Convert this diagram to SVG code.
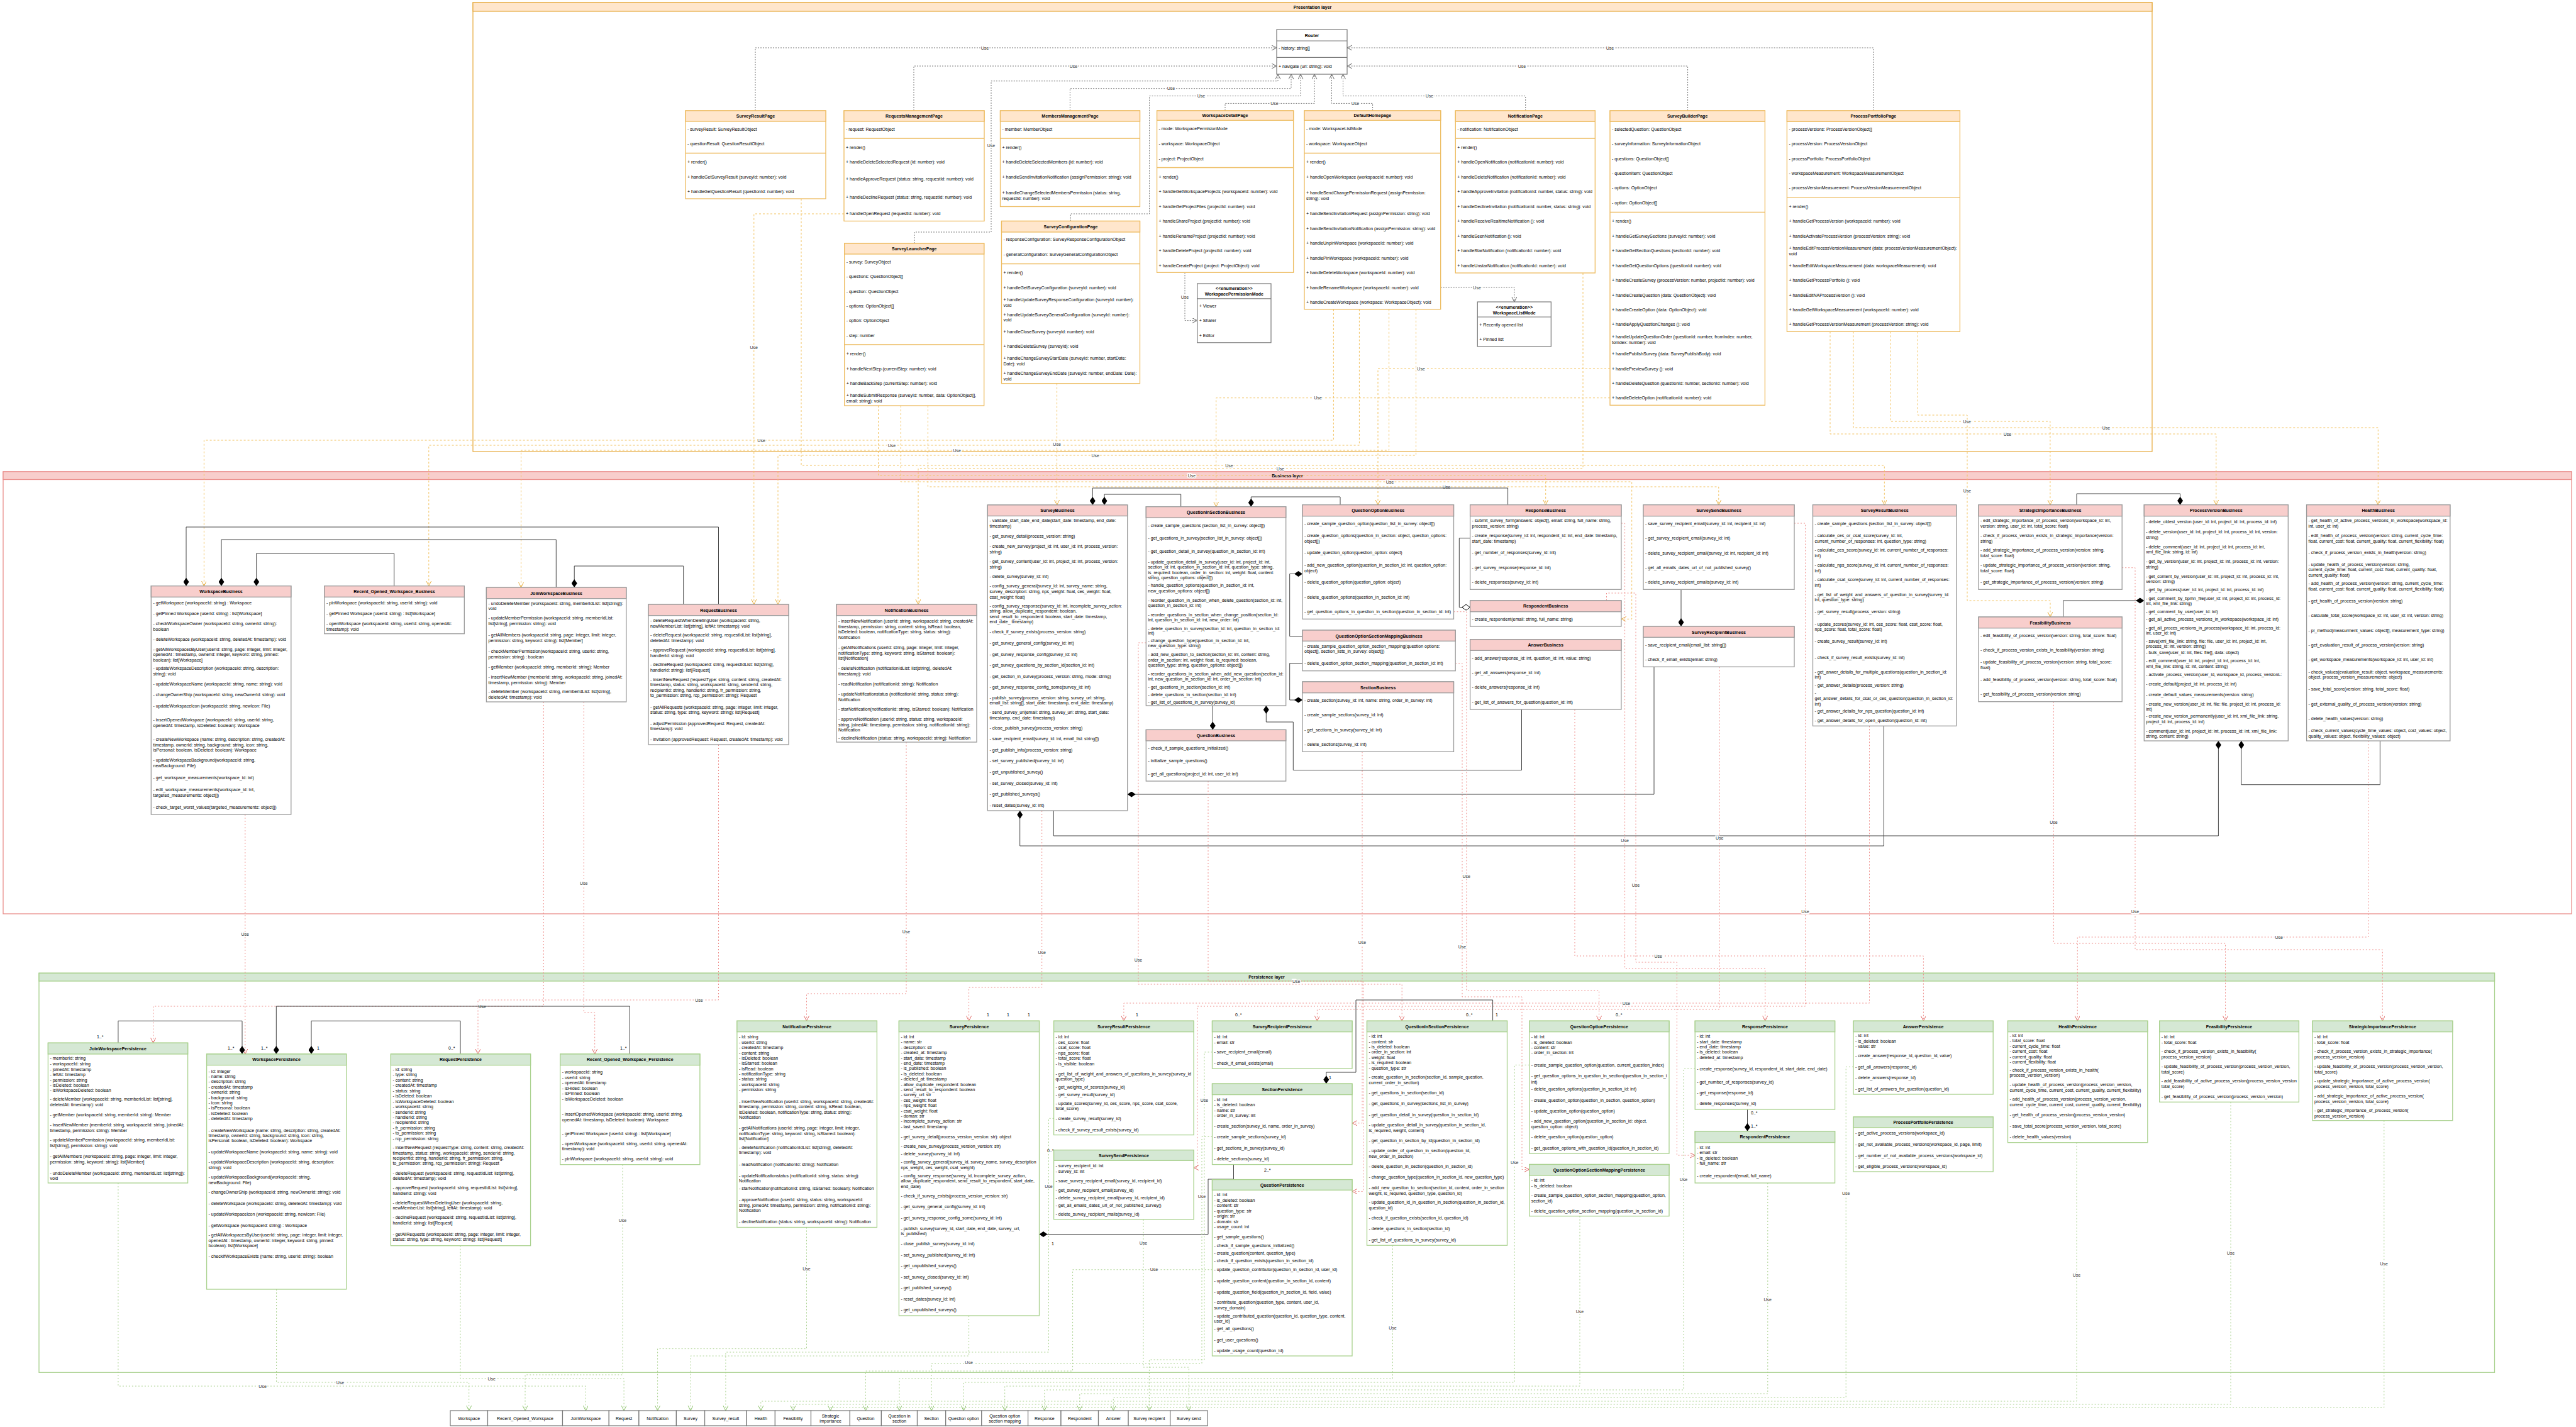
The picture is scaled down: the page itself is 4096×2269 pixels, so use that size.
<svg xmlns="http://www.w3.org/2000/svg" width="4096" height="2269" viewBox="0 0 4096 2269">
<style>
.t{font-family:"Liberation Sans",Arial,Helvetica,sans-serif;font-size:7px;fill:#000}
.b{font-weight:bold;text-anchor:middle}
.c{text-anchor:middle}
.lb{font-family:"Liberation Sans",Arial,sans-serif;font-size:7px;fill:#333;text-anchor:middle;paint-order:stroke;stroke:#fff;stroke-width:3px}
.pb{fill:#fff;stroke:#edbb5f;stroke-width:1.3}
.ph{fill:#ffe6cc;stroke:#edbb5f;stroke-width:1.3}
.pl{fill:none;stroke:#edbb5f;stroke-width:1.3}
.bb{fill:#fff;stroke:#9a9a9a;stroke-width:1.3}
.bh{fill:#f8cecc;stroke:#9a9a9a;stroke-width:1.3}
.gb{fill:#fff;stroke:#a9d18e;stroke-width:1.3}
.gh{fill:#d5e8d4;stroke:#a9d18e;stroke-width:1.3}
.wb{fill:#fff;stroke:#777;stroke-width:1.2}
.wl{fill:none;stroke:#777;stroke-width:1.2}
.ug{fill:none;stroke:#777;stroke-width:1;stroke-dasharray:2 2;marker-end:url(#ag)}
.uo{fill:none;stroke:#f2c260;stroke-width:1;stroke-dasharray:3 3;marker-end:url(#ao)}
.ur{fill:none;stroke:#ee8f8c;stroke-width:1;stroke-dasharray:2 3;marker-end:url(#ar)}
.un{fill:none;stroke:#a9d18e;stroke-width:1;stroke-dasharray:2 3;marker-end:url(#an)}
.s{fill:none;stroke:#444;stroke-width:1;marker-start:url(#dm)}
.sh{fill:none;stroke:#444;stroke-width:1;marker-start:url(#dh)}
</style>
<defs>
<marker id="ag" markerWidth="10" markerHeight="10" refX="8" refY="4" orient="auto" markerUnits="userSpaceOnUse"><path d="M0,0L8,4L0,8" fill="none" stroke="#666" stroke-width="1"/></marker>
<marker id="ao" markerWidth="10" markerHeight="10" refX="8" refY="4" orient="auto" markerUnits="userSpaceOnUse"><path d="M0,0L8,4L0,8" fill="none" stroke="#e8ae3e" stroke-width="1"/></marker>
<marker id="ar" markerWidth="10" markerHeight="10" refX="8" refY="4" orient="auto" markerUnits="userSpaceOnUse"><path d="M0,0L8,4L0,8" fill="none" stroke="#e06c68" stroke-width="1"/></marker>
<marker id="an" markerWidth="10" markerHeight="10" refX="8" refY="4" orient="auto" markerUnits="userSpaceOnUse"><path d="M0,0L8,4L0,8" fill="none" stroke="#8cc26b" stroke-width="1"/></marker>
<marker id="dm" markerWidth="14" markerHeight="10" refX="0" refY="4.5" orient="auto" markerUnits="userSpaceOnUse"><path d="M0,4.5L6.5,0L13,4.5L6.5,9Z" fill="#000"/></marker>
<marker id="dh" markerWidth="15" markerHeight="11" refX="0.5" refY="5" orient="auto" markerUnits="userSpaceOnUse"><path d="M0.5,5L7,0.5L13.5,5L7,9.5Z" fill="#fff" stroke="#000" stroke-width="1"/></marker>
</defs>
<rect width="4096" height="2269" fill="#fff"/>

<g id="layers">
<rect x="752" y="4" width="2670" height="714" fill="none" stroke="#e8b04a" stroke-width="1.3"/>
<rect x="752" y="4" width="2670" height="14" fill="#ffe6cc" stroke="#e8b04a" stroke-width="1.3"/>
<text class="t b" x="2087" y="13.5">Presentation layer</text>
<rect x="5" y="750" width="4084" height="703" fill="none" stroke="#ea8f8c" stroke-width="1.3"/>
<rect x="5" y="750" width="4084" height="12.5" fill="#f8cecc" stroke="#ea8f8c" stroke-width="1.3"/>
<text class="t b" x="2047" y="759">Business layer</text>
<rect x="62" y="1547.3" width="3904.5" height="635" fill="none" stroke="#a9d18e" stroke-width="1.3"/>
<rect x="62" y="1547.3" width="3904.5" height="12.7" fill="#d5e8d4" stroke="#a9d18e" stroke-width="1.3"/>
<text class="t b" x="2014" y="1556">Persistence layer</text>
</g>

<g id="connectors">
<path class="ug" d="M1201,176V76H2030"/>
<path class="ug" d="M1453,176V105H2030"/>
<path class="ug" d="M1454,387V369H1576V128.8H2032V118"/>
<path class="ug" d="M1701.4,176V140.7H2053V118"/>
<path class="ug" d="M1702.4,351.5V340H1827.5V152.6H2068V118"/>
<path class="ug" d="M1948,176V164.4H2090V118"/>
<path class="ug" d="M2182.6,176V164.4H2117.5V118"/>
<path class="ug" d="M2425.7,176V152.6H2135.5V118"/>
<path class="ug" d="M2683.6,176V105H2142"/>
<path class="ug" d="M2978.6,176V76H2142"/>
<path class="ug" d="M1884,433.3V509.6H1903.7"/>
<path class="ug" d="M2290.7,457H2407.9V480"/>
<text class="lb" x="1566" y="78.5">Use</text>
<text class="lb" x="1707" y="107.5">Use</text>
<text class="lb" x="1576" y="234">Use</text>
<text class="lb" x="1862" y="143">Use</text>
<text class="lb" x="1910" y="155">Use</text>
<text class="lb" x="2026.5" y="167">Use</text>
<text class="lb" x="2155" y="167">Use</text>
<text class="lb" x="2273" y="155">Use</text>
<text class="lb" x="2420" y="107.5">Use</text>
<text class="lb" x="2560" y="78.5">Use</text>
<text class="lb" x="1884" y="474.5">Use</text>
<text class="lb" x="2348.6" y="459.5">Use</text>
<path class="uo" d="M2120.4,491.8V700H324.4V931.7"/>
<path class="uo" d="M2161.4,491.8V708H681.8V931.7"/>
<path class="uo" d="M2208.6,491.8V716H828.5V934"/>
<path class="uo" d="M2251.5,491.8V724H1237V961"/>
<path class="uo" d="M1342,340H1198.8V961"/>
<path class="uo" d="M1274,316V740H2996.3V802.7"/>
<path class="uo" d="M1680.6,609.7V802.9"/>
<path class="uo" d="M2560,586H2191V802.7"/>
<path class="uo" d="M2560,632.7H1933.7V805.7"/>
<path class="uo" d="M1396.5,645V756H2457.7V802.7"/>
<path class="uo" d="M1432.4,645V766H2594.7V984.3H2578"/>
<path class="uo" d="M1475.5,645V774H2732.8V802.7"/>
<path class="uo" d="M2517,434V745H1460V961"/>
<path class="uo" d="M2910,527.3V690H3523.8V802.7"/>
<path class="uo" d="M2947,527.3V680H3781.3V802.7"/>
<path class="uo" d="M3005.7,527.3V670H3259.9V802.7"/>
<path class="uo" d="M3049.3,527.3V660H3128V955H3260V981"/>
<text class="lb" x="1198.8" y="554.5">Use</text>
<text class="lb" x="2095.8" y="635.2">Use</text>
<text class="lb" x="2259.6" y="588.5">Use</text>
<text class="lb" x="1210.6" y="702.5">Use</text>
<text class="lb" x="1417.9" y="710.5">Use</text>
<text class="lb" x="1521.8" y="718.5">Use</text>
<text class="lb" x="1741.7" y="726.5">Use</text>
<text class="lb" x="1954.5" y="742.5">Use</text>
<text class="lb" x="1680.6" y="708.8">Use</text>
<text class="lb" x="1895" y="758.5">Use</text>
<text class="lb" x="2210" y="768.5">Use</text>
<text class="lb" x="2300" y="776.5">Use</text>
<text class="lb" x="2036" y="747.5">Use</text>
<text class="lb" x="3192" y="692.5">Use</text>
<text class="lb" x="3349" y="682.5">Use</text>
<text class="lb" x="3127.7" y="672.5">Use</text>
<text class="lb" x="3128" y="783.3">Use</text>
<path class="s" d="M296,931.7V838H1142.5V961"/>
<path class="s" d="M352,931.7V858H884.3V934"/>
<path class="s" d="M407.7,931.7V880H626.7V931.7"/>
<path class="s" d="M913.2,934V900H1086.7V961"/>
<path class="s" d="M1737.3,802.9V776H2397.6V802.7"/>
<path class="s" d="M1756,802.9V786H1877.7V805.7"/>
<path class="s" d="M1989.3,805.7V790H2131V802.7"/>
<path class="s" d="M1928.3,1160.4V1122"/>
<path class="s" d="M2013.3,1122V1148H2056.3V1224.5H2419.5V1128"/>
<path class="s" d="M2071,912.5H2050.7V1011.8H2071"/>
<path class="s" d="M2071,1113H2050.7V1054.6H2071"/>
<path class="sh" d="M2337.6,965.7H2320.3V855.7H2337.6"/>
<path class="s" d="M2673,996V937.3"/>
<path class="s" d="M1792.7,1263H2630V1060.3"/>
<path class="s" d="M1621.7,1289V1345H2995.4V1154.3"/>
<path class="s" d="M3527.4,1178V1329H1675.3V1289"/>
<path class="s" d="M3563.8,1178V1247.7H3784.4V1178"/>
<path class="s" d="M3466.6,802.7V785H3302V802.7"/>
<path class="s" d="M3409.3,955H3280.5V981"/>
<path class="ur" d="M389.8,1295V1676"/>
<path class="ur" d="M864.3,1116V1600H243.6V1658.3"/>
<path class="ur" d="M928.3,1116V1610H945.7V1676"/>
<path class="ur" d="M1142.5,1184V1590H760V1676"/>
<path class="ur" d="M1441,1180V1580H1282.5V1623.3"/>
<path class="ur" d="M1656.7,1289V1570H1540.6V1623.3"/>
<path class="ur" d="M1822.3,1022H1810V1565H2229.2V1623.3"/>
<path class="ur" d="M2972.5,1154.3V1595H1786.9V1623.3"/>
<path class="ur" d="M1921,1242V1560H2167.6V1894.4H2150"/>
<path class="ur" d="M2166,1195.3V1785.8H2150"/>
<path class="ur" d="M2311.5,972.7H2331.8V1575H2542.6V1623.3"/>
<path class="ur" d="M2314.2,1054.7H2325V1585H2420V1859.5H2431.7"/>
<path class="ur" d="M2577.9,832H2583.6V1540H2806.7V1623.3"/>
<path class="ur" d="M2554.5,955V943H2601V1530H2666.4V1837H2695.2"/>
<path class="ur" d="M2504,1128V1520H3058.4V1623.3"/>
<path class="ur" d="M2853,832H2870.5V1600H1903.8V1856.7H1898.1"/>
<path class="ur" d="M2734.2,1060.3V1605H2094.4V1623.3"/>
<path class="ur" d="M3374.2,902.7H3395V1510H3788.3V1623.3"/>
<path class="ur" d="M3265.4,1115.7V1500H3538.5V1623.3"/>
<path class="ur" d="M3765.7,1178V1490H3303.3V1623.3"/>
<text class="lb" x="389.8" y="1488">Use</text>
<text class="lb" x="766.8" y="1602.5">Use</text>
<text class="lb" x="928.3" y="1407.2">Use</text>
<text class="lb" x="1111.5" y="1592.5">Use</text>
<text class="lb" x="1441" y="1483.5">Use</text>
<text class="lb" x="1656.7" y="1516.5">Use</text>
<text class="lb" x="1810" y="1528.5">Use</text>
<text class="lb" x="2585.9" y="1597.5">Use</text>
<text class="lb" x="2061.3" y="1562.5">Use</text>
<text class="lb" x="2166" y="1500.8">Use</text>
<text class="lb" x="2331.8" y="1395.7">Use</text>
<text class="lb" x="2325" y="1507.5">Use</text>
<text class="lb" x="2583.6" y="1338.8">Use</text>
<text class="lb" x="2601" y="1410.4">Use</text>
<text class="lb" x="2636.8" y="1522.5">Use</text>
<text class="lb" x="2870.5" y="1452">Use</text>
<text class="lb" x="2734.2" y="1335">Use</text>
<text class="lb" x="3395" y="1451.8">Use</text>
<text class="lb" x="3265.4" y="1310">Use</text>
<text class="lb" x="3623.8" y="1492.5">Use</text>
<path class="s" d="M385,1676V1623.3H187.9V1658.3"/>
<path class="s" d="M439.3,1676V1600H1001.4V1676"/>
<path class="s" d="M495,1676V1623.3H732V1676"/>
<path class="s" d="M1652.5,1962.6H1921V1875H1961.5V1851.6"/>
<path class="s" d="M2108.8,1723.2V1705H2156V1590H2373.6V1623.3"/>
<path class="s" d="M2778.5,1798.8V1764"/>
<text class="t" x="154" y="1651">1..*</text>
<text class="t" x="362" y="1669">1..*</text>
<text class="t" x="415" y="1669">1..*</text>
<text class="t" x="504" y="1669">1</text>
<text class="t" x="713" y="1669">0..*</text>
<text class="t" x="986" y="1669">1..*</text>
<text class="t" x="1569" y="1616">1</text>
<text class="t" x="1601" y="1616">1</text>
<text class="t" x="1634" y="1616">1</text>
<text class="t" x="1806" y="1616">1</text>
<text class="t" x="1964" y="1616">0..*</text>
<text class="t" x="1665" y="1832">0..*</text>
<text class="t" x="1672" y="1980">1</text>
<text class="t" x="2010" y="1863">2..*</text>
<text class="t" x="2113" y="1716">1</text>
<text class="t" x="2331" y="1616">0..*</text>
<text class="t" x="2378" y="1616">1</text>
<text class="t" x="2569" y="1616">0..*</text>
<text class="t" x="2784" y="1772">0..*</text>
<text class="t" x="2784" y="1793">1..*</text>
<path class="un" d="M187.9,1881V2204H931.4V2243"/>
<path class="un" d="M439.6,2050V2198H745.7V2243"/>
<path class="un" d="M732,1980.7V2192H992.1V2243"/>
<path class="un" d="M990,1851.7V2186H835V2243"/>
<path class="un" d="M1282.5,1951.5V2144.6H1045.6V2243"/>
<path class="un" d="M1540.6,2092V2156H1098V2243"/>
<path class="un" d="M1675.6,1778.3H1667.5V2150H1153.9V2243"/>
<path class="un" d="M1818,1938.9V2174H1890.4V2243"/>
<path class="un" d="M1927.5,1672.9H1915V2162H1827.4V2243"/>
<path class="un" d="M1927.5,1807.5H1911V2168H1481.1V2243"/>
<path class="un" d="M1927.5,2018.8H1705.6V2180H1376.4V2243"/>
<path class="un" d="M2214.5,1980.2V2192H1430V2243"/>
<path class="un" d="M2431.7,1693.4H2408.2V2198H1532.2V2243"/>
<path class="un" d="M2512,1933.7V2204H1597.7V2243"/>
<path class="un" d="M2695.2,1699.2H2677V2210H1660.8V2243"/>
<path class="un" d="M2810.8,1881V2216H1716.8V2243"/>
<path class="un" d="M2947,1696.3H2935.2V2222H1770.3V2243"/>
<path class="un" d="M3302,1816.7V2228H1209.8V2243"/>
<path class="un" d="M3547,1752.3V2233H1261V2243"/>
<path class="un" d="M3790.8,1781.7V2238H1320.5V2243"/>
<text class="lb" x="1282.5" y="2019.8">Use</text>
<text class="lb" x="1818" y="1979">Use</text>
<text class="lb" x="2214.5" y="2114">Use</text>
<text class="lb" x="2512" y="2087.5">Use</text>
<text class="lb" x="2810.8" y="2068.5">Use</text>
<text class="lb" x="990" y="1943">Use</text>
<text class="lb" x="1540.6" y="2168.5">Use</text>
<text class="lb" x="1915" y="1752.3">Use</text>
<text class="lb" x="1911" y="1904.5">Use</text>
<text class="lb" x="1835" y="2021.3">Use</text>
<text class="lb" x="1667.5" y="1888.5">Use</text>
<text class="lb" x="2408.2" y="1850.8">Use</text>
<text class="lb" x="2677" y="1878">Use</text>
<text class="lb" x="2935.2" y="1900.2">Use</text>
<text class="lb" x="417.6" y="2206.5">Use</text>
<text class="lb" x="541" y="2200.5">Use</text>
<text class="lb" x="781.8" y="2194.5">Use</text>
<text class="lb" x="3302" y="2030">Use</text>
<text class="lb" x="3547" y="1995">Use</text>
<text class="lb" x="3790.8" y="2012">Use</text>
</g>

<g id="Router">
<rect class="wb" x="2030" y="47" width="112" height="71"/>
<path class="wl" d="M2030,65H2142M2030,91.3H2142"/>
<text class="t b" x="2086" y="58.5">Router</text>
<text class="t"><tspan x="2033" y="78.5">- history: string[]</tspan><tspan x="2033" y="107.5">+ navigate (url: string): void</tspan></text>
</g>

<g id="SurveyResultPage">
<rect class="pb" x="1090" y="176" width="223" height="140"/>
<rect class="ph" x="1090" y="176" width="223" height="17"/>
<path class="pl" d="M1090,243.5H1313"/>
<text class="t b" x="1201.5" y="187">SurveyResultPage</text>
<text class="t"><tspan x="1093" y="207.5">- surveyResult: SurveyResultObject</tspan><tspan x="1093" y="231">- questionResult: QuestionResultObject</tspan><tspan x="1093" y="260.3">+ render()</tspan><tspan x="1093" y="283.5">+ handleGetSurveyResult (surveyId: number): void</tspan><tspan x="1093" y="307">+ handleGetQuestionResult (questionId: number): void</tspan></text>
</g>

<g id="RequestsManagementPage">
<rect class="pb" x="1342" y="176" width="223" height="175.5"/>
<rect class="ph" x="1342" y="176" width="223" height="17"/>
<path class="pl" d="M1342,220H1565"/>
<text class="t b" x="1453.5" y="187">RequestsManagementPage</text>
<text class="t"><tspan x="1345" y="207.5">- request: RequestObject</tspan><tspan x="1345" y="237">+ render()</tspan><tspan x="1345" y="260.3">+ handleDeleteSelectedRequest (id: number): void</tspan><tspan x="1345" y="286.7">+ handleApproveRequest (status: string, requestId: number): void</tspan><tspan x="1345" y="316">+ handleDeclineRequest (status: string, requestId: number): void</tspan><tspan x="1345" y="342">+ handleOpenRequest (requestId: number): void</tspan></text>
</g>

<g id="MembersManagementPage">
<rect class="pb" x="1590.5" y="176" width="222" height="152.5"/>
<rect class="ph" x="1590.5" y="176" width="222" height="17"/>
<path class="pl" d="M1590.5,220H1812.5"/>
<text class="t b" x="1701.5" y="187">MembersManagementPage</text>
<text class="t"><tspan x="1593.5" y="207.5">- member: MemberObject</tspan><tspan x="1593.5" y="237">+ render()</tspan><tspan x="1593.5" y="260.3">+ handleDeleteSelectedMembers (id: number): void</tspan><tspan x="1593.5" y="283.5">+ handleSendInvitationNotification (assignPermission: string): void</tspan><tspan x="1593.5" y="308.5">+ handleChangeSelectedMembersPermission (status: string,</tspan><tspan x="1593.5" y="317.5">requestId: number): void</tspan></text>
</g>

<g id="SurveyConfigurationPage">
<rect class="pb" x="1592.5" y="351.5" width="220" height="258.2"/>
<rect class="ph" x="1592.5" y="351.5" width="220" height="17.5"/>
<path class="pl" d="M1592.5,419.5H1812.5"/>
<text class="t b" x="1702.5" y="362.7">SurveyConfigurationPage</text>
<text class="t"><tspan x="1595.5" y="383.2">- responseConfiguration: SurveyResponseConfigurationObject</tspan><tspan x="1595.5" y="406.5">- generalConfiguration: SurveyGeneralConfigurationObject</tspan><tspan x="1595.5" y="436">+ render()</tspan><tspan x="1595.5" y="459.5">+ handleGetSurveyConfiguration (surveyId: number): void</tspan><tspan x="1595.5" y="478.5">+ handleUpdateSurveyResponseConfiguration (surveyId: number):</tspan><tspan x="1595.5" y="487.5">void</tspan><tspan x="1595.5" y="502.5">+ handleUpdateSurveyGeneralConfiguration  (surveyId: number):</tspan><tspan x="1595.5" y="510.5">void</tspan><tspan x="1595.5" y="529.5">+ handleCloseSurvey (surveyId: number): void</tspan><tspan x="1595.5" y="553">+ handleDeleteSurvey (surveyId): void</tspan><tspan x="1595.5" y="572">+ handleChangeSurveyStartDate (surveyId: number, startDate:</tspan><tspan x="1595.5" y="581">Date): void</tspan><tspan x="1595.5" y="596">+ handleChangeSurveyEndDate (surveyId: number, endDate: Date):</tspan><tspan x="1595.5" y="604.5">void</tspan></text>
</g>

<g id="SurveyLauncherPage">
<rect class="pb" x="1342.7" y="387" width="222" height="258"/>
<rect class="ph" x="1342.7" y="387" width="222" height="17"/>
<path class="pl" d="M1342.7,548H1564.7"/>
<text class="t b" x="1453.7" y="398">SurveyLauncherPage</text>
<text class="t"><tspan x="1345.7" y="418.5">- survey: SurveyObject</tspan><tspan x="1345.7" y="442">- questions: QuestionObject[]</tspan><tspan x="1345.7" y="465.5">- question: QuestionObject</tspan><tspan x="1345.7" y="488.5">- options: OptionObject[]</tspan><tspan x="1345.7" y="512">- option: OptionObject</tspan><tspan x="1345.7" y="535.5">- step: number</tspan><tspan x="1345.7" y="565">+ render()</tspan><tspan x="1345.7" y="588.5">+ handleNextStep (currentStep: number): void</tspan><tspan x="1345.7" y="611.5">+ handleBackStep (currentStep: number): void</tspan><tspan x="1345.7" y="631">+ handleSubmitResponse (surveyId: number, data: OptionObject[],</tspan><tspan x="1345.7" y="640">email: string): void</tspan></text>
</g>

<g id="WorkspaceDetailPage">
<rect class="pb" x="1839.6" y="176" width="217" height="257.3"/>
<rect class="ph" x="1839.6" y="176" width="217" height="15.3"/>
<path class="pl" d="M1839.6,266.5H2056.6"/>
<text class="t b" x="1948" y="186">WorkspaceDetailPage</text>
<text class="t"><tspan x="1842.6" y="206.5">- mode: WorkspacePermisionMode</tspan><tspan x="1842.6" y="230.5">- workspace: WorkspaceObject</tspan><tspan x="1842.6" y="254.5">- project: ProjectObject</tspan><tspan x="1842.6" y="283.5">+ render()</tspan><tspan x="1842.6" y="307">+ handleGetWorkspaceProjects (workspaceId: number): void</tspan><tspan x="1842.6" y="330.5">+ handleGetProjectFiles (projectId: number): void</tspan><tspan x="1842.6" y="354">+ handleShareProject (projectId: number): void</tspan><tspan x="1842.6" y="377.5">+ handleRenameProject (projectId: number): void</tspan><tspan x="1842.6" y="401">+ handleDeleteProject (projectId: number): void</tspan><tspan x="1842.6" y="424.5">+ handleCreateProject (project: ProjectObject): void</tspan></text>
</g>

<g id="DefaultHomepage">
<rect class="pb" x="2074" y="176" width="216.7" height="315.8"/>
<rect class="ph" x="2074" y="176" width="216.7" height="15.3"/>
<path class="pl" d="M2074,243.5H2290.7"/>
<text class="t b" x="2182.3" y="186">DefaultHomepage</text>
<text class="t"><tspan x="2077" y="206.5">- mode: WorkspaceListMode</tspan><tspan x="2077" y="230.5">- workspace: WorkspaceObject</tspan><tspan x="2077" y="260.3">+ render()</tspan><tspan x="2077" y="283.5">+ handleOpenWorkspace (workspaceId: number): void</tspan><tspan x="2077" y="308.5">+ handleSendChangePermissionRequest (assignPermission:</tspan><tspan x="2077" y="317.5">string): void</tspan><tspan x="2077" y="342">+ handleSendInvitationRequest (assignPermission: string): void</tspan><tspan x="2077" y="365.5">+ handleSendInvitationNotification (assignPermission: string): void</tspan><tspan x="2077" y="389">+ handleUnpinWorkspace (workspaceId: number): void</tspan><tspan x="2077" y="412.5">+ handlePinWorkspace (workspaceId: number): void</tspan><tspan x="2077" y="436">+ handleDeleteWorkspace (workspaceId: number): void</tspan><tspan x="2077" y="459.5">+ handleRenameWorkspace (workspaceId: number): void</tspan><tspan x="2077" y="483">+ handleCreateWorkspace (workspace: WorkspaceObject): void</tspan></text>
</g>

<g id="WorkspacePermissionMode">
<rect class="wb" x="1903.7" y="451" width="117.3" height="93.8"/>
<path class="wl" d="M1903.7,474.8H2021"/>
<text class="t b" x="1962.3" y="460.5">&lt;&lt;enumeration&gt;&gt;</text>
<text class="t b" x="1962.3" y="470">WorkspacePermissionMode</text>
<text class="t"><tspan x="1906.7" y="488.5">+ Viewer</tspan><tspan x="1906.7" y="512">+ Sharer</tspan><tspan x="1906.7" y="535.5">+ Editor</tspan></text>
</g>

<g id="WorkspaceListMode">
<rect class="wb" x="2349.3" y="480" width="117" height="71"/>
<path class="wl" d="M2349.3,504H2466.3"/>
<text class="t b" x="2407.8" y="490.5">&lt;&lt;enumeration&gt;&gt;</text>
<text class="t b" x="2407.8" y="499.5">WorkspaceListMode</text>
<text class="t"><tspan x="2352.3" y="518.5">+ Recently opened list</tspan><tspan x="2352.3" y="541.5">+ Pinned list</tspan></text>
</g>

<g id="NotificationPage">
<rect class="pb" x="2314.3" y="176" width="222" height="258"/>
<rect class="ph" x="2314.3" y="176" width="222" height="17.3"/>
<path class="pl" d="M2314.3,220H2536.3"/>
<text class="t b" x="2425.3" y="187">NotificationPage</text>
<text class="t"><tspan x="2317.3" y="207.5">- notification: NotificationObject</tspan><tspan x="2317.3" y="237">+ render()</tspan><tspan x="2317.3" y="260.2">+ handleOpenNotification (notificationId: number): void</tspan><tspan x="2317.3" y="283.5">+ handleDeleteNotification (notificationId: number): void</tspan><tspan x="2317.3" y="307.2">+ handleApproveInvitation (notificationId: number, status: string): void</tspan><tspan x="2317.3" y="330.8">+ handleDeclineInvitation (notificationId: number, status: string): void</tspan><tspan x="2317.3" y="354.2">+ handleReceiveRealtimeNotification (): void</tspan><tspan x="2317.3" y="377.5">+ handleSeenNotification (): void</tspan><tspan x="2317.3" y="401.2">+ handleStarNotification (notificationId: number): void</tspan><tspan x="2317.3" y="424.5">+ handleUnstarNotification (notificationId: number): void</tspan></text>
</g>

<g id="SurveyBuilderPage">
<rect class="pb" x="2560" y="176" width="246.4" height="468.3"/>
<rect class="ph" x="2560" y="176" width="246.4" height="17.3"/>
<path class="pl" d="M2560,337.3H2806.4"/>
<text class="t b" x="2683.2" y="187">SurveyBuilderPage</text>
<text class="t"><tspan x="2563" y="207.5">- selectedQuestion: QuestionObject</tspan><tspan x="2563" y="230.8">- surveyInformation: SurveyInformationObject</tspan><tspan x="2563" y="254.5">- questions: QuestionObject[]</tspan><tspan x="2563" y="277.8">- questionItem: QuestionObject</tspan><tspan x="2563" y="301.2">- options: OptionObject</tspan><tspan x="2563" y="324.5">- option: OptionObject[]</tspan><tspan x="2563" y="354.2">+ render()</tspan><tspan x="2563" y="377.5">+ handleGetSurveySections (surveyId: number): void</tspan><tspan x="2563" y="401.2">+ handleGetSectionQuestions (sectionId: number): void</tspan><tspan x="2563" y="424.5">+ handleGetQuestionOptions (questionId: number): void</tspan><tspan x="2563" y="447.8">+ handleCreateSurvey (processVersion: number, projectId: number): void</tspan><tspan x="2563" y="471.5">+ handleCreateQuestion (data: QuestionObject): void</tspan><tspan x="2563" y="494.8">+ handleCreateOption (data: OptionObject): void</tspan><tspan x="2563" y="518.2">+ handleApplyQuestionChanges (): void</tspan><tspan x="2563" y="537.5">+ handleUpdateQuestionOrder (questionId: number, fromIndex: number,</tspan><tspan x="2563" y="546.5">toIndex: number): void</tspan><tspan x="2563" y="565.2">+ handlePublishSurvey (data: SurveyPublishBody): void</tspan><tspan x="2563" y="588.5">+ handlePreviewSurvey (): void</tspan><tspan x="2563" y="611.8">+ handleDeleteQuestion (questionId: number, sectionId: number): void</tspan><tspan x="2563" y="635.2">+ handleDeleteOption (notificationId: number): void</tspan></text>
</g>

<g id="ProcessPortfolioPage">
<rect class="pb" x="2841.4" y="176" width="275" height="351.3"/>
<rect class="ph" x="2841.4" y="176" width="275" height="17.3"/>
<path class="pl" d="M2841.4,313.7H3116.4"/>
<text class="t b" x="2978.9" y="187">ProcessPortfolioPage</text>
<text class="t"><tspan x="2844.4" y="207.5">- processVersions: ProcessVersionObject[]</tspan><tspan x="2844.4" y="230.8">- processVersion: ProcessVersionObject</tspan><tspan x="2844.4" y="254.5">- processPortfolio: ProcessPortfolioObject</tspan><tspan x="2844.4" y="277.8">- workspaceMeasurement: WorkspaceMeasurementObject</tspan><tspan x="2844.4" y="301.2">- processVersionMeasurement: ProcessVersionMeasurementObject</tspan><tspan x="2844.4" y="330.8">+ render()</tspan><tspan x="2844.4" y="354.2">+ handleGetProcessVersion (workspaceId: number): void</tspan><tspan x="2844.4" y="377.5">+ handleActivateProcessVersion (processVersion: string): void</tspan><tspan x="2844.4" y="396.8">+ handleEditProcessVersionMeasurement (data: processVersionMeasurementObject):</tspan><tspan x="2844.4" y="405.8">void</tspan><tspan x="2844.4" y="424.5">+ handleEditWorkspaceMeasurement (data: workspaceMeasurement): void</tspan><tspan x="2844.4" y="447.8">+ handleGetProcessPortfolio (): void</tspan><tspan x="2844.4" y="471.5">+ handleEditNAProcessVersion (): void</tspan><tspan x="2844.4" y="494.8">+ handleGetWorkspaceMeasurement (workspaceId: number): void</tspan><tspan x="2844.4" y="518.2">+ handleGetProcessVersionMeasurement (processVersion: string): void</tspan></text>
</g>

<g id="WorkspaceBusiness">
<rect class="bb" x="240.3" y="931.7" width="222.5" height="363.3"/>
<rect class="bh" x="240.3" y="931.7" width="222.5" height="17.6"/>
<text class="t b" x="351.5" y="943">WorkspaceBusiness</text>
<text class="t"><tspan x="243.5" y="960.8">- getWorkspace (workspaceId: string) : Workspace</tspan><tspan x="243.5" y="978.2">- getPinned Workspace (userId: string) : list[Workspace]</tspan><tspan x="243.5" y="994.2">- checkWorkspaceOwner (workspaceId: string, ownerId: string):</tspan><tspan x="243.5" y="1003.2">boolean</tspan><tspan x="243.5" y="1019.2">- deleteWorkspace (workspaceId: string, deletedAt: timestamp): void</tspan><tspan x="243.5" y="1034.5">- getAllWorkspacesByUser(userId: string, page: integer, limit: integer,</tspan><tspan x="243.5" y="1042.5">openedAt : timestamp, ownerId: integer, keyword: string, pinned:</tspan><tspan x="243.5" y="1051.5">boolean): list[Workspace]</tspan><tspan x="243.5" y="1064.8">- updateWorkspaceDescription (workspaceId: string, description:</tspan><tspan x="243.5" y="1073.8">string): void</tspan><tspan x="243.5" y="1089.5">- updateWorkspaceName (workspaceId: string, name: string): void</tspan><tspan x="243.5" y="1107.2">- changeOwnerShip (workspaceId: string, newOwnerId: string): void</tspan><tspan x="243.5" y="1124.8">- updateWorkspaceIcon (workspaceId: string, newIcon: File)</tspan><tspan x="243.5" y="1146.8">- insertOpenedWorkspace (workspaceId: string, userId: string,</tspan><tspan x="243.5" y="1155.8">openedAt: timestamp, isDeleted: boolean): Workspace</tspan><tspan x="243.5" y="1177.8">- createNewWorkspace (name: string, description: string, createdAt:</tspan><tspan x="243.5" y="1186.5">timestamp, ownerId: string, background: string, icon: string,</tspan><tspan x="243.5" y="1194.8">isPersonal: boolean, isDeleted: boolean): Workspace</tspan><tspan x="243.5" y="1211.2">- updateWorkspaceBackground(workspaceId: string,</tspan><tspan x="243.5" y="1219.8">newBackground: File)</tspan><tspan x="243.5" y="1239.2">- get_workspace_measurements(workspace_id: int)</tspan><tspan x="243.5" y="1258.2">- edit_workspace_measurements(workspace_id: int,</tspan><tspan x="243.5" y="1266.8">targeted_measurements: object[])</tspan><tspan x="243.5" y="1285.8">- check_target_worst_values(targeted_measurements: object[])</tspan></text>
</g>

<g id="Recent_Opened_Workspace_Business">
<rect class="bb" x="515.8" y="931.7" width="222.5" height="76"/>
<rect class="bh" x="515.8" y="931.7" width="222.5" height="17.6"/>
<text class="t b" x="627" y="943">Recent_Opened_Workspace_Business</text>
<text class="t"><tspan x="519" y="960.8">- pinWorkspace (workspaceId: string, userId: string): void</tspan><tspan x="519" y="978.2">- getPinned Workspace (userId: string) : list[Workspace]</tspan><tspan x="519" y="994.2">- openWorkspace (workspaceId: string, userId: string, openedAt:</tspan><tspan x="519" y="1003.2">timestamp): void</tspan></text>
</g>

<g id="JoinWorkspaceBusiness">
<rect class="bb" x="773.4" y="934" width="222.4" height="182"/>
<rect class="bh" x="773.4" y="934" width="222.4" height="17.7"/>
<text class="t b" x="884.6" y="945.5">JoinWorkspaceBusiness</text>
<text class="t"><tspan x="776.6" y="961.8">- undoDeleteMember (workspaceId: string, memberIdList: list[string]):</tspan><tspan x="776.6" y="970.2">void</tspan><tspan x="776.6" y="985.2">- updateMemberPermission (workspaceId: string, memberIdList:</tspan><tspan x="776.6" y="993.8">list[string], permission: string): void</tspan><tspan x="776.6" y="1011.5">- getAllMembers (workspaceId: string, page: integer, limit: integer,</tspan><tspan x="776.6" y="1020.5">permission: string, keyword: string): list[Member]</tspan><tspan x="776.6" y="1038.2">- checkMemberPermission(workspaceId: string, userId: string,</tspan><tspan x="776.6" y="1046.8">permission: string) : boolean</tspan><tspan x="776.6" y="1062.5">- getMember (workspaceId: string, memberId: string): Member</tspan><tspan x="776.6" y="1079.2">- insertNewMember (memberId: string, workspaceId: string, joinedAt:</tspan><tspan x="776.6" y="1087.5">timestamp, permission: string): Member</tspan><tspan x="776.6" y="1102.2">- deleteMember (workspaceId: string, memberIdList: list[string],</tspan><tspan x="776.6" y="1111.2">deletedAt: timestamp): void</tspan></text>
</g>

<g id="RequestBusiness">
<rect class="bb" x="1031" y="961" width="223" height="223"/>
<rect class="bh" x="1031" y="961" width="223" height="17.7"/>
<text class="t b" x="1142.5" y="972.5">RequestBusiness</text>
<text class="t"><tspan x="1034" y="988.8">- deleteRequestWhenDeletingUser (workspaceId: string,</tspan><tspan x="1034" y="997.5">newMemberList: list[string], leftAt: timestamp): void</tspan><tspan x="1034" y="1012.2">- deleteRequest (workspaceId: string, requestIdList: list[string],</tspan><tspan x="1034" y="1020.8">deletedAt: timestamp): void</tspan><tspan x="1034" y="1035.8">- approveRequest (workspaceId: string, requestIdList: list[string],</tspan><tspan x="1034" y="1044.5">handlerId: string): void</tspan><tspan x="1034" y="1058.8">- declineRequest (workspaceId: string, requestIdList: list[string],</tspan><tspan x="1034" y="1067.5">handlerId: string): list[Request]</tspan><tspan x="1034" y="1082.8">- insertNewRequest (requestType: string, content: string, createdAt:</tspan><tspan x="1034" y="1091.2">timestamp, status: string, workspaceId: string, senderId: string,</tspan><tspan x="1034" y="1099.8">recipientId: string, handlerId: string, fr_permission: string,</tspan><tspan x="1034" y="1108.2">to_permission: string, rcp_permission: string): Request</tspan><tspan x="1034" y="1126.5">- getAllRequests (workspaceId: string, page: integer, limit: integer,</tspan><tspan x="1034" y="1135.2">status: string, type: string, keyword: string): list[Request]</tspan><tspan x="1034" y="1152.5">- adjustPermission (approvedRequest: Request, createdAt:</tspan><tspan x="1034" y="1161.2">timestamp): void</tspan><tspan x="1034" y="1177.5">- invitation (approvedRequest: Request, createdAt: timestamp): void</tspan></text>
</g>

<g id="NotificationBusiness">
<rect class="bb" x="1330" y="961" width="223" height="219"/>
<rect class="bh" x="1330" y="961" width="223" height="17.7"/>
<text class="t b" x="1441.5" y="972.5">NotificationBusiness</text>
<text class="t"><tspan x="1333" y="990">- insertNewNotification (userId: string, workspaceId: string, createdAt:</tspan><tspan x="1333" y="998.5">timestamp, permission: string, content: string, isRead: boolean,</tspan><tspan x="1333" y="1007">isDeleted: boolean, notificationType: string, status: string):</tspan><tspan x="1333" y="1015.5">Notification</tspan><tspan x="1333" y="1032">- getAllNotifications (userId: string, page: integer, limit: integer,</tspan><tspan x="1333" y="1040.5">notificationType: string, keyword: string, isStarred: boolean):</tspan><tspan x="1333" y="1049">list[Notification]</tspan><tspan x="1333" y="1065">- deleteNotification (notificationIdList: list[string], deletedAt:</tspan><tspan x="1333" y="1073.5">timestamp): void</tspan><tspan x="1333" y="1090">- readNotification (notificationId: string): Notification</tspan><tspan x="1333" y="1106">- updateNotificationstatus (notificationId: string, status: string):</tspan><tspan x="1333" y="1114.5">Notification</tspan><tspan x="1333" y="1130">- starNotification(notificationId: string, isStarred: boolean): Notification</tspan><tspan x="1333" y="1146">- approveNotification (userId: string, status: string, workspaceId:</tspan><tspan x="1333" y="1154.5">string, joinedAt: timestamp, permission: string, notificationId: string):</tspan><tspan x="1333" y="1163">Notification</tspan><tspan x="1333" y="1176">- declineNotification (status: string, workspaceId: string): Notification</tspan></text>
</g>

<g id="SurveyBusiness">
<rect class="bb" x="1570.3" y="802.9" width="222.4" height="486.1"/>
<rect class="bh" x="1570.3" y="802.9" width="222.4" height="17.5"/>
<text class="t b" x="1681.5" y="814">SurveyBusiness</text>
<text class="t"><tspan x="1573.5" y="830">- validate_start_date_end_date(start_date: timestamp, end_date:</tspan><tspan x="1573.5" y="838.9">timestamp)</tspan><tspan x="1573.5" y="855">- get_survey_detail(process_version: string)</tspan><tspan x="1573.5" y="871.1">- create_new_survey(project_id: int, user_id: int, process_version:</tspan><tspan x="1573.5" y="880">string)</tspan><tspan x="1573.5" y="894.6">- get_survey_content(user_id: int, project_id: int, process_version:</tspan><tspan x="1573.5" y="903.5">string)</tspan><tspan x="1573.5" y="919.3">- delete_survey(survey_id: int)</tspan><tspan x="1573.5" y="934.3">- config_survey_general(survey_id: int, survey_name: string,</tspan><tspan x="1573.5" y="942.5">survey_description: string, nps_weight: float, ces_weight: float,</tspan><tspan x="1573.5" y="951.5">csat_weight: float)</tspan><tspan x="1573.5" y="965.7">- config_survey_response(survey_id: int, incomplete_survey_action:</tspan><tspan x="1573.5" y="973.9">string, allow_duplicate_respondent: boolean,</tspan><tspan x="1573.5" y="982.5">send_result_to_respondent: boolean, start_date: timestamp,</tspan><tspan x="1573.5" y="991.1">end_date_ timestamp)</tspan><tspan x="1573.5" y="1007.1">- check_if_survey_exists(process_version: string)</tspan><tspan x="1573.5" y="1024.5">- get_survey_general_config(survey_id: int)</tspan><tspan x="1573.5" y="1042.5">- get_survey_response_config(survey_id: int)</tspan><tspan x="1573.5" y="1060">- get_survey_questions_by_section_id(section_id: int)</tspan><tspan x="1573.5" y="1077.5">- get_section_in_survey(process_version: string, mode: string)</tspan><tspan x="1573.5" y="1095.4">- get_survey_response_config_some(survey_id: int)</tspan><tspan x="1573.5" y="1111.5">- publish_survey(process_version: string, survey_url: string,</tspan><tspan x="1573.5" y="1120.4">email_list: string[], start_date: timestamp, end_date: timestamp)</tspan><tspan x="1573.5" y="1135">- send_survey_url(email: string, survey_url: string, start_date:</tspan><tspan x="1573.5" y="1143.5">timestamp, end_date: timestamp)</tspan><tspan x="1573.5" y="1159.5">- close_publish_survey(process_version: string)</tspan><tspan x="1573.5" y="1177.1">- save_recipient_email(survey_id: int, email_list: string[])</tspan><tspan x="1573.5" y="1194.5">- get_publish_info(process_version: string)</tspan><tspan x="1573.5" y="1212.1">- set_survey_published(survey_id: int)</tspan><tspan x="1573.5" y="1229.5">- get_unpublished_survey()</tspan><tspan x="1573.5" y="1247.5">- set_survey_closed(survey_id: int)</tspan><tspan x="1573.5" y="1265">- get_published_surveys()</tspan><tspan x="1573.5" y="1282.5">- reset_dates(survey_id: int)</tspan></text>
</g>

<g id="QuestionInSectionBusiness">
<rect class="bb" x="1822.3" y="805.7" width="222.4" height="316.3"/>
<rect class="bh" x="1822.3" y="805.7" width="222.4" height="17.5"/>
<text class="t b" x="1933.5" y="817">QuestionInSectionBusiness</text>
<text class="t"><tspan x="1825.5" y="837.5">- create_sample_questions (section_list_in_survey: object[])</tspan><tspan x="1825.5" y="857.9">- get_questions_in_survey(section_list_in_survey: object[])</tspan><tspan x="1825.5" y="878.5">- get_question_detail_in_survey(question_in_section_id: int)</tspan><tspan x="1825.5" y="896.1">- update_question_detail_in_survey(user_id: int, project_id: int,</tspan><tspan x="1825.5" y="904.3">section_id: int, question_in_section_id: int, question_type: string,</tspan><tspan x="1825.5" y="912.5">is_required: boolean, order_in_section: int, weight: float, content:</tspan><tspan x="1825.5" y="921.1">string, question_options: object[])</tspan><tspan x="1825.5" y="932.9">- handle_question_options(question_in_section_id: int,</tspan><tspan x="1825.5" y="941.8">new_question_options: object[])</tspan><tspan x="1825.5" y="956.5">- reorder_question_in_section_when_delete_question(section_id: int,</tspan><tspan x="1825.5" y="965">question_in_section_id: int)</tspan><tspan x="1825.5" y="979.5">- reorder_questions_in_section_when_change_position(section_id:</tspan><tspan x="1825.5" y="988.2">int, question_in_section_id: int, new_order: int)</tspan><tspan x="1825.5" y="1001.5">- delete_question_in_survey(section_id: int, question_in_section_id:</tspan><tspan x="1825.5" y="1009.3">int)</tspan><tspan x="1825.5" y="1020.5">- change_question_type(question_in_section_id: int,</tspan><tspan x="1825.5" y="1029.3">new_question_type: string)</tspan><tspan x="1825.5" y="1042.9">- add_new_question_to_section(section_id: int, content: string,</tspan><tspan x="1825.5" y="1051.5">order_in_section: int, weight: float, is_required: boolean,</tspan><tspan x="1825.5" y="1060">question_type: string, question_options: object[])</tspan><tspan x="1825.5" y="1073.5">- reorder_questions_in_section_when_add_new_question(section_id:</tspan><tspan x="1825.5" y="1082.1">int, new_question_in_section_id: int, order_in_section: int)</tspan><tspan x="1825.5" y="1095.4">- get_questions_in_section(section_id: int)</tspan><tspan x="1825.5" y="1106.8">- delete_questions_in_section(section_id: int)</tspan><tspan x="1825.5" y="1118.5">- get_list_of_questions_in_survey(survey_id)</tspan></text>
</g>

<g id="QuestionBusiness">
<rect class="bb" x="1822.3" y="1160.4" width="222.4" height="81.6"/>
<rect class="bh" x="1822.3" y="1160.4" width="222.4" height="17.5"/>
<text class="t b" x="1933.5" y="1171.7">QuestionBusiness</text>
<text class="t"><tspan x="1825.5" y="1191.8">- check_if_sample_questions_initialized()</tspan><tspan x="1825.5" y="1212.1">- initialize_sample_questions()</tspan><tspan x="1825.5" y="1232.9">- get_all_questions(project_id: int, user_id: int)</tspan></text>
</g>

<g id="QuestionOptionBusiness">
<rect class="bb" x="2071" y="802.7" width="240.5" height="181.6"/>
<rect class="bh" x="2071" y="802.7" width="240.5" height="18"/>
<text class="t b" x="2191.2" y="814.2">QuestionOptionBusiness</text>
<text class="t"><tspan x="2074" y="834.5">- create_sample_question_option(question_list_in_survey: object[])</tspan><tspan x="2074" y="853.8">- create_question_options(question_in_section: object, question_options:</tspan><tspan x="2074" y="862.5">object[])</tspan><tspan x="2074" y="881.2">- update_question_option(question_option: object)</tspan><tspan x="2074" y="900.8">- add_new_question_option(question_in_section_id: int, question_option:</tspan><tspan x="2074" y="909.5">object)</tspan><tspan x="2074" y="928.2">- delete_question_option(question_option: object)</tspan><tspan x="2074" y="951.5">- delete_question_options(question_in_section_id: int)</tspan><tspan x="2074" y="975.2">- get_question_options_in_question_in_section(question_in_section_id: int)</tspan></text>
</g>

<g id="QuestionOptionSectionMappingBusiness">
<rect class="bb" x="2071" y="1002" width="243.2" height="64.7"/>
<rect class="bh" x="2071" y="1002" width="243.2" height="17.3"/>
<text class="t b" x="2192.6" y="1013.5">QuestionOptionSectionMappingBusiness</text>
<text class="t"><tspan x="2074" y="1029.5">- create_sample_question_option_section_mapping(question options:</tspan><tspan x="2074" y="1038.2">object[], section_lists_in_survey: object[])</tspan><tspan x="2074" y="1057.2">- delete_question_option_section_mapping(question_in_section_id: int)</tspan></text>
</g>

<g id="SectionBusiness">
<rect class="bb" x="2071" y="1084" width="240.5" height="111.3"/>
<rect class="bh" x="2071" y="1084" width="240.5" height="17.7"/>
<text class="t b" x="2191.2" y="1095.5">SectionBusiness</text>
<text class="t"><tspan x="2074" y="1115.8">- create_section(survey_id: int, name: string, order_in_survey: int)</tspan><tspan x="2074" y="1139.2">- create_sample_sections(survey_id: int)</tspan><tspan x="2074" y="1162.5">- get_sections_in_survey(survey_id: int)</tspan><tspan x="2074" y="1185.8">- delete_sections(survey_id: int)</tspan></text>
</g>

<g id="ResponseBusiness">
<rect class="bb" x="2337.6" y="802.7" width="240.3" height="134.6"/>
<rect class="bh" x="2337.6" y="802.7" width="240.3" height="18"/>
<text class="t b" x="2457.7" y="814.2">ResponseBusiness</text>
<text class="t"><tspan x="2340.6" y="830.2">- submit_survey_form(answers: object[], email: string, full_name: string,</tspan><tspan x="2340.6" y="839.2">process_version: string)</tspan><tspan x="2340.6" y="853.8">- create_response(survey_id: int, respondent_id: int, end_date: timestamp,</tspan><tspan x="2340.6" y="862.5">start_date: timestamp)</tspan><tspan x="2340.6" y="881.2">- get_number_of_responses(survey_id: int)</tspan><tspan x="2340.6" y="904.8">- get_survey_response(response_id: int)</tspan><tspan x="2340.6" y="928.2">- delete_responses(survey_id: int)</tspan></text>
</g>

<g id="RespondentBusiness">
<rect class="bb" x="2337.6" y="955" width="240.3" height="41"/>
<rect class="bh" x="2337.6" y="955" width="240.3" height="17.7"/>
<text class="t b" x="2457.7" y="966.4">RespondentBusiness</text>
<text class="t" x="2340.6" y="986.8">- create_respondent(email: string, full_name: string)</text>
</g>

<g id="AnswerBusiness">
<rect class="bb" x="2337.6" y="1016.7" width="240.3" height="111.3"/>
<rect class="bh" x="2337.6" y="1016.7" width="240.3" height="17.6"/>
<text class="t b" x="2457.7" y="1028">AnswerBusiness</text>
<text class="t"><tspan x="2340.6" y="1048.5">- add_answer(response_id: int, question_id: int, value: string)</tspan><tspan x="2340.6" y="1071.8">- get_all_answers(response_id: int)</tspan><tspan x="2340.6" y="1095.2">- delete_answers(response_id: int)</tspan><tspan x="2340.6" y="1118.5">- get_list_of_answers_for_question(question_id: int)</tspan></text>
</g>

<g id="SurveySendBusiness">
<rect class="bb" x="2613" y="802.7" width="240" height="134.6"/>
<rect class="bh" x="2613" y="802.7" width="240" height="18"/>
<text class="t b" x="2733" y="814.2">SurveySendBusiness</text>
<text class="t"><tspan x="2616" y="834.5">- save_survey_recipient_email(survey_id: int, recipient_id: int)</tspan><tspan x="2616" y="858.2">- get_survey_recipient_email(survey_id: int)</tspan><tspan x="2616" y="881.5">- delete_survey_recipient_email(survey_id: int, recipient_id: int)</tspan><tspan x="2616" y="904.8">- get_all_emails_dates_url_of_not_published_survey()</tspan><tspan x="2616" y="928.2">- delete_survey_recipient_emails(survey_id: int)</tspan></text>
</g>

<g id="SurveyRecipientBusiness">
<rect class="bb" x="2613" y="996" width="240" height="64.3"/>
<rect class="bh" x="2613" y="996" width="240" height="17.3"/>
<text class="t b" x="2733" y="1007.5">SurveyRecipientBusiness</text>
<text class="t"><tspan x="2616" y="1027.8">- save_recipient_email(email_list: string[])</tspan><tspan x="2616" y="1051.2">- check_if_email_exists(email: string)</tspan></text>
</g>

<g id="SurveyResultBusiness">
<rect class="bb" x="2882.5" y="802.7" width="228.2" height="351.6"/>
<rect class="bh" x="2882.5" y="802.7" width="228.2" height="18"/>
<text class="t b" x="2996.6" y="814.2">SurveyResultBusiness</text>
<text class="t"><tspan x="2885.5" y="834.5">- create_sample_questions (section_list_in_survey: object[])</tspan><tspan x="2885.5" y="853.8">- calculate_ces_or_csat_score(survey_id: int,</tspan><tspan x="2885.5" y="862.5">current_number_of_responses: int, question_type: string)</tspan><tspan x="2885.5" y="877.2">- calculate_ces_score(survey_id: int, current_number_of_responses:</tspan><tspan x="2885.5" y="885.8">int)</tspan><tspan x="2885.5" y="900.8">- calculate_nps_score(survey_id: int, current_number_of_responses:</tspan><tspan x="2885.5" y="909.5">int)</tspan><tspan x="2885.5" y="924.2">- calculate_csat_score(survey_id: int, current_number_of_responses:</tspan><tspan x="2885.5" y="932.8">int)</tspan><tspan x="2885.5" y="947.5">- get_list_of_weight_and_answers_of_question_in_survey(survey_id:</tspan><tspan x="2885.5" y="956.2">int, question_type: string)</tspan><tspan x="2885.5" y="975.2">- get_survey_result(process_version: string)</tspan><tspan x="2885.5" y="994.5">- update_scores(survey_id: int, ces_score: float, csat_score: float,</tspan><tspan x="2885.5" y="1003.2">nps_score: float, total_score: float)</tspan><tspan x="2885.5" y="1022.2">- create_survey_result(survey_id: int)</tspan><tspan x="2885.5" y="1048.2">- check_if_survey_result_exists(survey_id: int)</tspan><tspan x="2885.5" y="1070.5">- get_anwer_details_for_multiple_questions(question_in_section_id:</tspan><tspan x="2885.5" y="1079.2">int)</tspan><tspan x="2885.5" y="1092.2">- get_answer_details(process_version: string)</tspan><tspan x="2885.5" y="1104.2">-</tspan><tspan x="2885.5" y="1112.8">get_answer_details_for_csat_or_ces_question(question_in_section_id:</tspan><tspan x="2885.5" y="1121.5">int)</tspan><tspan x="2885.5" y="1133.2">- get_answer_details_for_nps_question(question_id: int)</tspan><tspan x="2885.5" y="1147.8">- get_answer_details_for_open_question(question_id: int)</tspan></text>
</g>

<g id="StrategicImportanceBusiness">
<rect class="bb" x="3146" y="802.7" width="228.2" height="134.6"/>
<rect class="bh" x="3146" y="802.7" width="228.2" height="18"/>
<text class="t b" x="3260.1" y="814.2">StrategicImportanceBusiness</text>
<text class="t"><tspan x="3149" y="830.2">- edit_strategic_importance_of_process_version(workspace_id: int,</tspan><tspan x="3149" y="839.2">version: string, user_id: int, total_score: float)</tspan><tspan x="3149" y="853.8">- check_if_process_version_exists_in_strategic_importance(version:</tspan><tspan x="3149" y="862.5">string)</tspan><tspan x="3149" y="877.2">- add_strategic_importance_of_process_version(version: string,</tspan><tspan x="3149" y="885.8">total_score: float)</tspan><tspan x="3149" y="900.8">- update_strategic_importance_of_process_version(version: string,</tspan><tspan x="3149" y="909.5">total_score: float)</tspan><tspan x="3149" y="928.2">- get_strategic_importance_of_process_version(version: string)</tspan></text>
</g>

<g id="FeasibilityBusiness">
<rect class="bb" x="3146" y="981" width="228.2" height="134.7"/>
<rect class="bh" x="3146" y="981" width="228.2" height="17.7"/>
<text class="t b" x="3260.1" y="992.5">FeasibilityBusiness</text>
<text class="t"><tspan x="3149" y="1012.5">- edit_feasibility_of_process_version(version: string, total_score: float)</tspan><tspan x="3149" y="1035.8">- check_if_process_version_exists_in_feasibility(version: string)</tspan><tspan x="3149" y="1055.2">- update_feasibility_of_process_version(version: string, total_score:</tspan><tspan x="3149" y="1063.8">float)</tspan><tspan x="3149" y="1082.8">- add_feasibility_of_process_version(version: string, total_score: float)</tspan><tspan x="3149" y="1106.2">- get_feasibility_of_process_version(version: string)</tspan></text>
</g>

<g id="ProcessVersionBusiness">
<rect class="bb" x="3409.3" y="802.7" width="229" height="375.3"/>
<rect class="bh" x="3409.3" y="802.7" width="229" height="18"/>
<text class="t b" x="3523.8" y="814.2">ProcessVersionBusiness</text>
<text class="t"><tspan x="3412.3" y="831.5">- delete_oldest_version (user_id: int, project_id: int, process_id: int)</tspan><tspan x="3412.3" y="848.2">- delete_version(user_id: int, project_id: int, process_id: int, version:</tspan><tspan x="3412.3" y="856.8">string)</tspan><tspan x="3412.3" y="871.5">- delete_comment(user_id: int, project_id: int, process_id: int,</tspan><tspan x="3412.3" y="880.2">xml_file_link: string, id: int)</tspan><tspan x="3412.3" y="894.8">- get_by_version(user_id: int, project_id: int, process_id: int, version:</tspan><tspan x="3412.3" y="903.5">string)</tspan><tspan x="3412.3" y="918.5">- get_content_by_version(user_id: int, project_id: int, process_id: int,</tspan><tspan x="3412.3" y="927.2">version: string)</tspan><tspan x="3412.3" y="939.8">- get_by_process(user_id: int, project_id: int, process_id: int)</tspan><tspan x="3412.3" y="953.5">- get_comment_by_bpmn_file(user_id: int, project_id: int, process_id:</tspan><tspan x="3412.3" y="962.2">int, xml_file_link: string)</tspan><tspan x="3412.3" y="975.2">- get_comment_by_user(user_id: int)</tspan><tspan x="3412.3" y="986.8">- get_all_active_process_versions_in_workspace(workspace_id: int)</tspan><tspan x="3412.3" y="1000.5">- get_all_proces_versions_in_process(workspace_id: int, process_id:</tspan><tspan x="3412.3" y="1009.2">int, user_id: int)</tspan><tspan x="3412.3" y="1022.2">- save(xml_file_link: string, file: file, user_id: int, project_id: int,</tspan><tspan x="3412.3" y="1030.2">process_id: int, version: string)</tspan><tspan x="3412.3" y="1039.8">- bulk_save(user_id: int, files: file[], data: object)</tspan><tspan x="3412.3" y="1053.2">- edit_comment(user_id: int, project_id: int, process_id: int,</tspan><tspan x="3412.3" y="1061.8">xml_file_link: string, id: int, content: string)</tspan><tspan x="3412.3" y="1075.2">- activate_process_version(user_id, workspace_id, process_versionL:</tspan><tspan x="3412.3" y="1089.5">- create_default(project_id: int, process_id: int)</tspan><tspan x="3412.3" y="1107.2">- create_default_values_measurements(version: string)</tspan><tspan x="3412.3" y="1121.8">- create_new_version(user_id: int, file: file, project_id: int, process_id:</tspan><tspan x="3412.3" y="1129.8">int)</tspan><tspan x="3412.3" y="1141.2">- create_new_version_permanently(user_id: int, xml_file_link: string,</tspan><tspan x="3412.3" y="1149.8">project_id: int, process_id: int)</tspan><tspan x="3412.3" y="1164.5">- comment(user_id: int, project_id: int, process_id: int, xml_file_link:</tspan><tspan x="3412.3" y="1173.2">string, content: string)</tspan></text>
</g>

<g id="HealthBusiness">
<rect class="bb" x="3667.6" y="802.7" width="228.2" height="375.3"/>
<rect class="bh" x="3667.6" y="802.7" width="228.2" height="18"/>
<text class="t b" x="3781.7" y="814.2">HealthBusiness</text>
<text class="t"><tspan x="3670.6" y="830.2">- get_health_of_active_process_versions_in_workspace(workspace_id:</tspan><tspan x="3670.6" y="839.2">int, user_id: int)</tspan><tspan x="3670.6" y="853.8">- edit_health_of_process_version(version: string, current_cycle_time:</tspan><tspan x="3670.6" y="862.5">float, current_cost: float, current_quality: float, current_flexibility: float)</tspan><tspan x="3670.6" y="881.2">- check_if_process_version_exists_in_health(version: string)</tspan><tspan x="3670.6" y="899.5">- update_health_of_process_version(version: string,</tspan><tspan x="3670.6" y="907.8">current_cycle_time: float, current_cost: float, current_quality: float,</tspan><tspan x="3670.6" y="916.5">current_quality: float)</tspan><tspan x="3670.6" y="929.8">- add_health_of_process_version(version: string, current_cycle_time:</tspan><tspan x="3670.6" y="938.5">float, current_cost: float, current_quality: float, current_flexibility: float)</tspan><tspan x="3670.6" y="957.5">- get_health_of_process_version(version: string)</tspan><tspan x="3670.6" y="980.8">- calculate_total_score(workspace_id: int, user_id: int, version: string)</tspan><tspan x="3670.6" y="1004.5">- pi_method(measurment_values: object[], measurement_type: string)</tspan><tspan x="3670.6" y="1027.8">- get_evaluation_result_of_process_version(version: string)</tspan><tspan x="3670.6" y="1051.2">- get_workspace_measurements(workspace_id: int, user_id: int)</tspan><tspan x="3670.6" y="1070.5">- check_values(evaluation_result: object, workspace_measurements:</tspan><tspan x="3670.6" y="1079.2">object, process_version_measurements: object)</tspan><tspan x="3670.6" y="1097.8">- save_total_score(version: string, total_score: float)</tspan><tspan x="3670.6" y="1121.5">- get_external_quality_of_process_version(version: string)</tspan><tspan x="3670.6" y="1144.8">- delete_health_values(version: string)</tspan><tspan x="3670.6" y="1164.2">- check_current_values(cycle_time_values: object, cost_values: object,</tspan><tspan x="3670.6" y="1172.8">quality_values: object, flexibility_values: object)</tspan></text>
</g>

<g id="JoinWorkspacePersistence">
<rect class="gb" x="76.4" y="1658.3" width="222.2" height="222.7"/>
<rect class="gh" x="76.4" y="1658.3" width="222.2" height="17.7"/>
<text class="t b" x="187.5" y="1669.5">JoinWorkspacePersistence</text>
<text class="t"><tspan x="79.4" y="1685.2">- memberId: string</tspan><tspan x="79.4" y="1694.2">- workspaceId: string</tspan><tspan x="79.4" y="1702.5">- joinedAt: timestamp</tspan><tspan x="79.4" y="1710.5">- leftAt: timestamp</tspan><tspan x="79.4" y="1719.5">- permission: string</tspan><tspan x="79.4" y="1727.5">- isDeleted: boolean</tspan><tspan x="79.4" y="1735.5">- isWorkspaceDeleted: boolean</tspan><tspan x="79.4" y="1750.2">- deleteMember (workspaceId: string, memberIdList: list[string],</tspan><tspan x="79.4" y="1758.8">deletedAt: timestamp): void</tspan><tspan x="79.4" y="1775.2">- getMember (workspaceId: string, memberId: string): Member</tspan><tspan x="79.4" y="1791.2">- insertNewMember (memberId: string, workspaceId: string, joinedAt:</tspan><tspan x="79.4" y="1799.8">timestamp, permission: string): Member</tspan><tspan x="79.4" y="1815.2">- updateMemberPermission (workspaceId: string, memberIdList:</tspan><tspan x="79.4" y="1823.5">list[string], permission: string): void</tspan><tspan x="79.4" y="1841.2">- getAllMembers (workspaceId: string, page: integer, limit: integer,</tspan><tspan x="79.4" y="1849.8">permission: string, keyword: string): list[Member]</tspan><tspan x="79.4" y="1867.5">- undoDeleteMember (workspaceId: string, memberIdList: list[string]):</tspan><tspan x="79.4" y="1876.2">void</tspan></text>
</g>

<g id="WorkspacePersistence">
<rect class="gb" x="328.6" y="1676" width="222.1" height="374"/>
<rect class="gh" x="328.6" y="1676" width="222.1" height="17.7"/>
<text class="t b" x="439.6" y="1687.3">WorkspacePersistence</text>
<text class="t"><tspan x="331.6" y="1705.5">- id: integer</tspan><tspan x="331.6" y="1714.2">- name: string</tspan><tspan x="331.6" y="1721.8">- description: string</tspan><tspan x="331.6" y="1730.5">- createdAt: timestamp</tspan><tspan x="331.6" y="1738.8">- ownerId: string</tspan><tspan x="331.6" y="1747.5">- background: string</tspan><tspan x="331.6" y="1755.5">- icon: string</tspan><tspan x="331.6" y="1763.8">- isPersonal: boolean</tspan><tspan x="331.6" y="1772.5">- isDeleted: boolean</tspan><tspan x="331.6" y="1780.8">- deletedAt: timestamp</tspan><tspan x="331.6" y="1799.5">- createNewWorkspace (name: string, description: string, createdAt:</tspan><tspan x="331.6" y="1807.8">timestamp, ownerId: string, background: string, icon: string,</tspan><tspan x="331.6" y="1816.2">isPersonal: boolean, isDeleted: boolean): Workspace</tspan><tspan x="331.6" y="1833.5">- updateWorkspaceName (workspaceId: string, name: string): void</tspan><tspan x="331.6" y="1850.2">- updateWorkspaceDescription (workspaceId: string, description:</tspan><tspan x="331.6" y="1858.8">string): void</tspan><tspan x="331.6" y="1873.8">- updateWorkspaceBackground(workspaceId: string,</tspan><tspan x="331.6" y="1882.5">newBackground: File)</tspan><tspan x="331.6" y="1898.2">- changeOwnerShip (workspaceId: string, newOwnerId: string): void</tspan><tspan x="331.6" y="1915.8">- deleteWorkspace (workspaceId: string, deletedAt: timestamp): void</tspan><tspan x="331.6" y="1933.2">- updateWorkspaceIcon (workspaceId: string, newIcon: File)</tspan><tspan x="331.6" y="1950.8">- getWorkspace (workspaceId: string) : Workspace</tspan><tspan x="331.6" y="1966.2">- getAllWorkspacesByUser(userId: string, page: integer, limit: integer,</tspan><tspan x="331.6" y="1974.5">openedAt : timestamp, ownerId: integer, keyword: string, pinned:</tspan><tspan x="331.6" y="1983.2">boolean): list[Workspace]</tspan><tspan x="331.6" y="1999.8">- checkIfWorkspaceExists (name: string, userId: string): boolean</tspan></text>
</g>

<g id="RequestPersistence">
<rect class="gb" x="621.4" y="1676" width="222.2" height="304.7"/>
<rect class="gh" x="621.4" y="1676" width="222.2" height="17.7"/>
<text class="t b" x="732.5" y="1687.3">RequestPersistence</text>
<text class="t"><tspan x="624.4" y="1702.8">- id: string</tspan><tspan x="624.4" y="1711.2">- type: string</tspan><tspan x="624.4" y="1719.8">- content: string</tspan><tspan x="624.4" y="1728.2">- createdAt: timestamp</tspan><tspan x="624.4" y="1736.5">- status: string</tspan><tspan x="624.4" y="1744.8">- isDeleted: boolean</tspan><tspan x="624.4" y="1753.5">- isWorkspaceDeleted: boolean</tspan><tspan x="624.4" y="1761.8">- workspaceId: string</tspan><tspan x="624.4" y="1770.5">- senderId: string</tspan><tspan x="624.4" y="1778.8">- handlerId: string</tspan><tspan x="624.4" y="1787.2">- recipientId: string</tspan><tspan x="624.4" y="1795.5">- fr_permission: string</tspan><tspan x="624.4" y="1803.8">- to_permission: string</tspan><tspan x="624.4" y="1812.5">- rcp_permission: string</tspan><tspan x="624.4" y="1827.2">- insertNewRequest (requestType: string, content: string, createdAt:</tspan><tspan x="624.4" y="1835.5">timestamp, status: string, workspaceId: string, senderId: string,</tspan><tspan x="624.4" y="1843.8">recipientId: string, handlerId: string, fr_permission: string,</tspan><tspan x="624.4" y="1852.2">to_permission: string, rcp_permission: string): Request</tspan><tspan x="624.4" y="1867.5">- deleteRequest (workspaceId: string, requestIdList: list[string],</tspan><tspan x="624.4" y="1876.2">deletedAt: timestamp): void</tspan><tspan x="624.4" y="1891.2">- approveRequest (workspaceId: string, requestIdList: list[string],</tspan><tspan x="624.4" y="1899.8">handlerId: string): void</tspan><tspan x="624.4" y="1914.5">- deleteRequestWhenDeletingUser (workspaceId: string,</tspan><tspan x="624.4" y="1923.2">newMemberList: list[string], leftAt: timestamp): void</tspan><tspan x="624.4" y="1937.8">- declineRequest (workspaceId: string, requestIdList: list[string],</tspan><tspan x="624.4" y="1946.5">handlerId: string): list[Request]</tspan><tspan x="624.4" y="1964.5">- getAllRequests (workspaceId: string, page: integer, limit: integer,</tspan><tspan x="624.4" y="1973.2">status: string, type: string, keyword: string): list[Request]</tspan></text>
</g>

<g id="Recent_Opened_Workspace_Persistence">
<rect class="gb" x="890.7" y="1676" width="222.2" height="175.7"/>
<rect class="gh" x="890.7" y="1676" width="222.2" height="17.7"/>
<text class="t b" x="1001.8" y="1687.3">Recent_Opened_Workspace_Persistence</text>
<text class="t"><tspan x="893.7" y="1707.2">- workspaceId: string</tspan><tspan x="893.7" y="1715.8">- userId: string</tspan><tspan x="893.7" y="1724.2">- openedAt: timestamp</tspan><tspan x="893.7" y="1732.8">- isHided: boolean</tspan><tspan x="893.7" y="1741.2">- isPinned: boolean</tspan><tspan x="893.7" y="1749.5">- isWorkspaceDeleted: boolean</tspan><tspan x="893.7" y="1773.8">- insertOpenedWorkspace (workspaceId: string, userId: string,</tspan><tspan x="893.7" y="1782.5">openedAt: timestamp, isDeleted: boolean): Workspace</tspan><tspan x="893.7" y="1804.5">- getPinned Workspace (userId: string) : list[Workspace]</tspan><tspan x="893.7" y="1820.5">- openWorkspace (workspaceId: string, userId: string, openedAt:</tspan><tspan x="893.7" y="1829.2">timestamp): void</tspan><tspan x="893.7" y="1845.2">- pinWorkspace (workspaceId: string, userId: string): void</tspan></text>
</g>

<g id="NotificationPersistence">
<rect class="gb" x="1171.9" y="1623.3" width="222.5" height="328.2"/>
<rect class="gh" x="1171.9" y="1623.3" width="222.5" height="17.4"/>
<text class="t b" x="1283.1" y="1634.5">NotificationPersistence</text>
<text class="t"><tspan x="1174.9" y="1650.6">- id: string</tspan><tspan x="1174.9" y="1659.5">- userId: string</tspan><tspan x="1174.9" y="1668">- createdAt: timestamp</tspan><tspan x="1174.9" y="1676.5">- content: string</tspan><tspan x="1174.9" y="1684.6">- isDeleted: boolean</tspan><tspan x="1174.9" y="1693.1">- isStarred: boolean</tspan><tspan x="1174.9" y="1701.6">- isRead: boolean</tspan><tspan x="1174.9" y="1710.2">- notificationType: string</tspan><tspan x="1174.9" y="1718.3">- status: string</tspan><tspan x="1174.9" y="1726.8">- workspaceId: string</tspan><tspan x="1174.9" y="1734.9">- permission: string</tspan><tspan x="1174.9" y="1753.8">- insertNewNotification (userId: string, workspaceId: string, createdAt:</tspan><tspan x="1174.9" y="1762.3">timestamp, permission: string, content: string, isRead: boolean,</tspan><tspan x="1174.9" y="1770.8">isDeleted: boolean, notificationType: string, status: string):</tspan><tspan x="1174.9" y="1779">Notification</tspan><tspan x="1174.9" y="1796">- getAllNotifications (userId: string, page: integer, limit: integer,</tspan><tspan x="1174.9" y="1804.5">notificationType: string, keyword: string, isStarred: boolean):</tspan><tspan x="1174.9" y="1813">list[Notification]</tspan><tspan x="1174.9" y="1826.7">- deleteNotification (notificationIdList: list[string], deletedAt:</tspan><tspan x="1174.9" y="1835.2">timestamp): void</tspan><tspan x="1174.9" y="1854.1">- readNotification (notificationId: string): Notification</tspan><tspan x="1174.9" y="1871.5">- updateNotificationstatus (notificationId: string, status: string):</tspan><tspan x="1174.9" y="1879.5">Notification</tspan><tspan x="1174.9" y="1892.2">- starNotification(notificationId: string, isStarred: boolean): Notification</tspan><tspan x="1174.9" y="1910.3">- approveNotification (userId: string, status: string, workspaceId:</tspan><tspan x="1174.9" y="1918.8">string, joinedAt: timestamp, permission: string, notificationId: string):</tspan><tspan x="1174.9" y="1927.3">Notification</tspan><tspan x="1174.9" y="1945.1">- declineNotification (status: string, workspaceId: string): Notification</tspan></text>
</g>

<g id="SurveyPersistence">
<rect class="gb" x="1429.4" y="1623.3" width="223.1" height="468.7"/>
<rect class="gh" x="1429.4" y="1623.3" width="223.1" height="17.4"/>
<text class="t b" x="1541" y="1634.5">SurveyPersistence</text>
<text class="t"><tspan x="1432.4" y="1650.6">- id: int</tspan><tspan x="1432.4" y="1659.1">- name: str</tspan><tspan x="1432.4" y="1667.6">- description: str</tspan><tspan x="1432.4" y="1676.1">- created_at: timestamp</tspan><tspan x="1432.4" y="1684.6">- start_date: timestamp</tspan><tspan x="1432.4" y="1692.8">- end_date: timestamp</tspan><tspan x="1432.4" y="1700.9">- is_published: boolean</tspan><tspan x="1432.4" y="1709.8">- is_deleted: boolean</tspan><tspan x="1432.4" y="1717.9">- deleted_at: timestamp</tspan><tspan x="1432.4" y="1726.8">- allow_duplicate_respondent: boolean</tspan><tspan x="1432.4" y="1734.9">- send_result_to_respondent: boolean</tspan><tspan x="1432.4" y="1743.1">- survey_url: str</tspan><tspan x="1432.4" y="1752">- ces_weight: float</tspan><tspan x="1432.4" y="1760.1">- nps_weight: float</tspan><tspan x="1432.4" y="1768.6">- csat_weight: float</tspan><tspan x="1432.4" y="1777.1">- doman: str</tspan><tspan x="1432.4" y="1785.3">- incomplete_survey_action: str</tspan><tspan x="1432.4" y="1794.1">- last_saved: timestamp</tspan><tspan x="1432.4" y="1810">- get_survey_detail(process_version_version: str): object</tspan><tspan x="1432.4" y="1824.8">- create_new_survey(process_version_version: str)</tspan><tspan x="1432.4" y="1836.7">- delete_survey(survey_id: int)</tspan><tspan x="1432.4" y="1850">- config_survey_general(survey_id, survey_name, survey_description</tspan><tspan x="1432.4" y="1858.5">nps_weight, ces_weight, csat_weight)</tspan><tspan x="1432.4" y="1872.2">- config_survey_response(survey_id, incomplete_survey_action,</tspan><tspan x="1432.4" y="1880.3">allow_duplicate_respondent, send_result_to_respondent, start_date,</tspan><tspan x="1432.4" y="1889.2">end_date)</tspan><tspan x="1432.4" y="1904">- check_if_survey_exists(process_version_version: str)</tspan><tspan x="1432.4" y="1921.4">- get_survey_general_config(survey_id: int)</tspan><tspan x="1432.4" y="1938.8">- get_survey_response_config_some(survey_id: int)</tspan><tspan x="1432.4" y="1955.5">- publish_survey(survey_id, start_date, end_date, survey_url,</tspan><tspan x="1432.4" y="1964.3">is_published)</tspan><tspan x="1432.4" y="1980.2">- close_publish_survey(survey_id: int)</tspan><tspan x="1432.4" y="1997.6">- set_survey_published(survey_id: int)</tspan><tspan x="1432.4" y="2015">- get_unpublished_surveys()</tspan><tspan x="1432.4" y="2032.8">- set_survey_closed(survey_id: int)</tspan><tspan x="1432.4" y="2050.1">- get_published_surveys()</tspan><tspan x="1432.4" y="2067.5">- reset_dates(survey_id: int)</tspan><tspan x="1432.4" y="2085.3">- get_unpublished_surveys()</tspan></text>
</g>

<g id="SurveyResultPersistence">
<rect class="gb" x="1675.6" y="1623.3" width="222.5" height="181.3"/>
<rect class="gh" x="1675.6" y="1623.3" width="222.5" height="17.4"/>
<text class="t b" x="1786.9" y="1634.5">SurveyResultPersistence</text>
<text class="t"><tspan x="1678.6" y="1650.6">- id: int</tspan><tspan x="1678.6" y="1659.5">- ces_score: float</tspan><tspan x="1678.6" y="1668">- csat_score: float</tspan><tspan x="1678.6" y="1676.5">- nps_score: float</tspan><tspan x="1678.6" y="1685">- total_score: float</tspan><tspan x="1678.6" y="1693.5">- is_visible: boolean</tspan><tspan x="1678.6" y="1709.5">- get_list_of_weight_and_answers_of_questions_in_survey(survey_id</tspan><tspan x="1678.6" y="1717.9">question_type)</tspan><tspan x="1678.6" y="1731.2">- get_weights_of_scores(survey_id)</tspan><tspan x="1678.6" y="1743.1">- get_survey_result(survey_id)</tspan><tspan x="1678.6" y="1756.5">- update_scores(survey_id, ces_score, nps_score, csat_score,</tspan><tspan x="1678.6" y="1764.9">total_score)</tspan><tspan x="1678.6" y="1780.8">- create_survey_result(survey_id)</tspan><tspan x="1678.6" y="1798.5">- check_if_survey_result_exists(survey_id)</tspan></text>
</g>

<g id="SurveySendPersistence">
<rect class="gb" x="1675.6" y="1828.6" width="222.5" height="110.3"/>
<rect class="gh" x="1675.6" y="1828.6" width="222.5" height="16.7"/>
<text class="t b" x="1786.9" y="1839.5">SurveySendPersistence</text>
<text class="t"><tspan x="1678.6" y="1855.9">- survey_recipient_id: int</tspan><tspan x="1678.6" y="1864.5">- survey_id: int</tspan><tspan x="1678.6" y="1880">- save_survey_recipient_email(survey_id, recipient_id)</tspan><tspan x="1678.6" y="1895.1">- get_survey_recipient_email(survey_id)</tspan><tspan x="1678.6" y="1907">- delete_survey_recipient_email(survey_id, recipient_id)</tspan><tspan x="1678.6" y="1918.8">- get_all_emails_dates_url_of_not_published_survey()</tspan><tspan x="1678.6" y="1932.9">- delete_survey_recipient_mails(survey_id)</tspan></text>
</g>

<g id="SurveyRecipientPersistence">
<rect class="gb" x="1927.5" y="1623.3" width="222.5" height="75.7"/>
<rect class="gh" x="1927.5" y="1623.3" width="222.5" height="17.4"/>
<text class="t b" x="2038.8" y="1634.5">SurveyRecipientPersistence</text>
<text class="t"><tspan x="1930.5" y="1650.6">- id: int</tspan><tspan x="1930.5" y="1659.5">- email: str</tspan><tspan x="1930.5" y="1675.4">- save_recipient_email(email)</tspan><tspan x="1930.5" y="1693.1">- check_if_email_exists(email)</tspan></text>
</g>

<g id="SectionPersistence">
<rect class="gb" x="1927.5" y="1723.2" width="222.5" height="128.4"/>
<rect class="gh" x="1927.5" y="1723.2" width="222.5" height="17.4"/>
<text class="t b" x="2038.8" y="1734.5">SectionPersistence</text>
<text class="t"><tspan x="1930.5" y="1750.5">- id: int</tspan><tspan x="1930.5" y="1759.1">- is_deleted: boolean</tspan><tspan x="1930.5" y="1767.9">- name: str</tspan><tspan x="1930.5" y="1776.3">- order_in_survey: int</tspan><tspan x="1930.5" y="1792.7">- create_section(survey_id, name, order_in_survey)</tspan><tspan x="1930.5" y="1810">- create_sample_sections(survey_id)</tspan><tspan x="1930.5" y="1827.8">- get_sections_in_survey(survey_id)</tspan><tspan x="1930.5" y="1845.2">- delete_sections(survey_id)</tspan></text>
</g>

<g id="QuestionPersistence">
<rect class="gb" x="1927.5" y="1875.6" width="222.5" height="280.4"/>
<rect class="gh" x="1927.5" y="1875.6" width="222.5" height="16.7"/>
<text class="t b" x="2038.8" y="1886.5">QuestionPersistence</text>
<text class="t"><tspan x="1930.5" y="1902.2">- id: int</tspan><tspan x="1930.5" y="1911">- is_deleted: boolean</tspan><tspan x="1930.5" y="1919.4">- content: str</tspan><tspan x="1930.5" y="1927.8">- question_type: str</tspan><tspan x="1930.5" y="1936.1">- origin: str</tspan><tspan x="1930.5" y="1944.5">- domain: str</tspan><tspan x="1930.5" y="1952.9">- usage_count: int</tspan><tspan x="1930.5" y="1968.8">- get_sample_questions()</tspan><tspan x="1930.5" y="1983.2">- check_if_sample_questions_initialized()</tspan><tspan x="1930.5" y="1994.7">- create_question(content, question_type)</tspan><tspan x="1930.5" y="2006.5">- check_if_question_exists(question_in_section_id)</tspan><tspan x="1930.5" y="2021.3">- update_question_contributor(question_in_section_id, user_id)</tspan><tspan x="1930.5" y="2039.1">- update_question_content(question_in_section_id, content)</tspan><tspan x="1930.5" y="2056.5">- update_question_field(question_in_section_id, field, value)</tspan><tspan x="1930.5" y="2072.7">- contribute_question(question_type, content, user_id,</tspan><tspan x="1930.5" y="2081.5">survey_domain)</tspan><tspan x="1930.5" y="2094.5">- update_contributed_question(question_id, question_type, content,</tspan><tspan x="1930.5" y="2103.1">user_id)</tspan><tspan x="1930.5" y="2115.3">- get_all_questions()</tspan><tspan x="1930.5" y="2132.5">- get_user_questions()</tspan><tspan x="1930.5" y="2150">- update_usage_count(question_id)</tspan></text>
</g>

<g id="QuestionInSectionPersistence">
<rect class="gb" x="2173.5" y="1623.3" width="223" height="356.9"/>
<rect class="gh" x="2173.5" y="1623.3" width="223" height="17.4"/>
<text class="t b" x="2285" y="1634.5">QuestionInSectionPersistence</text>
<text class="t"><tspan x="2176.5" y="1650.1">- id: int</tspan><tspan x="2176.5" y="1659">- content: str</tspan><tspan x="2176.5" y="1667.2">- is_deleted: boolean</tspan><tspan x="2176.5" y="1675.2">- order_in_section: int</tspan><tspan x="2176.5" y="1684">- weight: float</tspan><tspan x="2176.5" y="1692.3">- is_required: boolean</tspan><tspan x="2176.5" y="1700.5">- question_type: str</tspan><tspan x="2176.5" y="1715.2">- create_question_in_section(section_id, sample_question,</tspan><tspan x="2176.5" y="1723.9">current_order_in_section)</tspan><tspan x="2176.5" y="1739.9">- get_questions_in_section(section_id)</tspan><tspan x="2176.5" y="1757.4">- get_questions_in_survey(sections_list_in_survey)</tspan><tspan x="2176.5" y="1774.8">- get_question_detail_in_survey(question_in_section_id)</tspan><tspan x="2176.5" y="1791.2">- update_question_detail_in_survey(question_in_section_id,</tspan><tspan x="2176.5" y="1799.9">is_required, weight, content)</tspan><tspan x="2176.5" y="1815.9">- get_question_in_section_by_id(question_in_section_id)</tspan><tspan x="2176.5" y="1832.2">- update_order_of_question_in_section(question_id,</tspan><tspan x="2176.5" y="1841">new_order_in_section)</tspan><tspan x="2176.5" y="1857">- delete_question_in_section(question_in_section_id)</tspan><tspan x="2176.5" y="1874.4">- change_question_type(question_in_section_id, new_question_type)</tspan><tspan x="2176.5" y="1891.1">- add_new_question_to_section(section_id, content, order_in_section</tspan><tspan x="2176.5" y="1899.8">weight, is_required, question_type, question_id)</tspan><tspan x="2176.5" y="1914">- update_question_id_in_question_in_section(question_in_section_id,</tspan><tspan x="2176.5" y="1923.1">question_id)</tspan><tspan x="2176.5" y="1939.1">- check_if_question_exists(section_id, question_id)</tspan><tspan x="2176.5" y="1956.2">- delete_questions_in_section(section_id)</tspan><tspan x="2176.5" y="1973.6">- get_list_of_questions_in_survey(survey_id)</tspan></text>
</g>

<g id="QuestionOptionPersistence">
<rect class="gb" x="2431.7" y="1623.3" width="222.3" height="210.8"/>
<rect class="gh" x="2431.7" y="1623.3" width="222.3" height="17.4"/>
<text class="t b" x="2542.8" y="1634.5">QuestionOptionPersistence</text>
<text class="t"><tspan x="2434.7" y="1650.8">- id: int</tspan><tspan x="2434.7" y="1659.5">- is_deleted: boolean</tspan><tspan x="2434.7" y="1668.3">- content: str</tspan><tspan x="2434.7" y="1676.3">- order_in_section: int</tspan><tspan x="2434.7" y="1695.9">- create_sample_question_option(question, current_question_index)</tspan><tspan x="2434.7" y="1713.4">- get_question_options_in_question_in_section(question_in_section_i</tspan><tspan x="2434.7" y="1722.5">int)</tspan><tspan x="2434.7" y="1734.1">- delete_question_options(question_in_section_id: int)</tspan><tspan x="2434.7" y="1751.5">- create_question_option(question_in_section, question_option)</tspan><tspan x="2434.7" y="1769">- update_question_option(question_option)</tspan><tspan x="2434.7" y="1785.3">- add_new_question_option(question_in_section_id: object,</tspan><tspan x="2434.7" y="1794.1">question_option: object)</tspan><tspan x="2434.7" y="1810.1">- delete_question_option(question_option)</tspan><tspan x="2434.7" y="1827.9">- get_question_options_with_question_id(question_in_section_id)</tspan></text>
</g>

<g id="QuestionOptionSectionMappingPersistence">
<rect class="gb" x="2431.7" y="1851.5" width="222.3" height="82.2"/>
<rect class="gh" x="2431.7" y="1851.5" width="222.3" height="17.5"/>
<text class="t b" x="2542.8" y="1862.8">QuestionOptionSectionMappingPersistence</text>
<text class="t"><tspan x="2434.7" y="1879.1">- id: int</tspan><tspan x="2434.7" y="1887.8">- is_deleted: boolean</tspan><tspan x="2434.7" y="1903.1">- create_sample_question_option_section_mapping(question_option,</tspan><tspan x="2434.7" y="1911.8">section_id)</tspan><tspan x="2434.7" y="1927.5">- delete_question_option_section_mapping(question_in_section_id)</tspan></text>
</g>

<g id="ResponsePersistence">
<rect class="gb" x="2695.2" y="1623.3" width="222.4" height="140.7"/>
<rect class="gh" x="2695.2" y="1623.3" width="222.4" height="17.4"/>
<text class="t b" x="2806.4" y="1634.5">ResponsePersistence</text>
<text class="t"><tspan x="2698.2" y="1650.1">- id: int</tspan><tspan x="2698.2" y="1658.5">- start_date: timestamp</tspan><tspan x="2698.2" y="1666.8">- end_date: timestamp</tspan><tspan x="2698.2" y="1675.2">- is_deleted: boolean</tspan><tspan x="2698.2" y="1683.5">- deleted_at: timestamp</tspan><tspan x="2698.2" y="1701.7">- create_response(survey_id, respondent_id, start_date, end_date)</tspan><tspan x="2698.2" y="1722.5">- get_number_of_responses(survey_id)</tspan><tspan x="2698.2" y="1739.9">- get_response(response_id)</tspan><tspan x="2698.2" y="1757.4">- delete_responses(survey_id)</tspan></text>
</g>

<g id="RespondentPersistence">
<rect class="gb" x="2695.2" y="1798.8" width="222.4" height="82.2"/>
<rect class="gh" x="2695.2" y="1798.8" width="222.4" height="17.8"/>
<text class="t b" x="2806.4" y="1810.2">RespondentPersistence</text>
<text class="t"><tspan x="2698.2" y="1826.8">- id: int</tspan><tspan x="2698.2" y="1835.2">- email: str</tspan><tspan x="2698.2" y="1843.9">- is_deleted: boolean</tspan><tspan x="2698.2" y="1852.3">- full_name: str</tspan><tspan x="2698.2" y="1871.5">- create_respondent(email, full_name)</tspan></text>
</g>

<g id="AnswerPersistence">
<rect class="gb" x="2947" y="1623.3" width="222.2" height="116.7"/>
<rect class="gh" x="2947" y="1623.3" width="222.2" height="17.4"/>
<text class="t b" x="3058.1" y="1634.5">AnswerPersistence</text>
<text class="t"><tspan x="2950" y="1649.4">- id: int</tspan><tspan x="2950" y="1657.8">- is_deleted: boolean</tspan><tspan x="2950" y="1666.1">- value: str</tspan><tspan x="2950" y="1681.4">- create_answer(response_id, question_id, value)</tspan><tspan x="2950" y="1698.8">- get_all_answers(response_id)</tspan><tspan x="2950" y="1716.3">- delete_answers(response_id)</tspan><tspan x="2950" y="1734.1">- get_list_of_answers_for_question(question_id)</tspan></text>
</g>

<g id="ProcessPortfolioPersistence">
<rect class="gb" x="2947" y="1776" width="222.2" height="87"/>
<rect class="gh" x="2947" y="1776" width="222.2" height="16.7"/>
<text class="t b" x="3058.1" y="1786.5">ProcessPortfolioPersistence</text>
<text class="t"><tspan x="2950" y="1804.2">- get_active_process_versions(workspace_id)</tspan><tspan x="2950" y="1822">- get_not_available_process_versions(workspace_id, page, limit)</tspan><tspan x="2950" y="1839.5">- get_number_of_not_available_process_versions(workspace_id)</tspan><tspan x="2950" y="1857">- get_eligible_process_versions(workspace_id)</tspan></text>
</g>

<g id="HealthPersistence">
<rect class="gb" x="3192.5" y="1623.3" width="222.3" height="193.4"/>
<rect class="gh" x="3192.5" y="1623.3" width="222.3" height="17.4"/>
<text class="t b" x="3303.6" y="1634.5">HealthPersistence</text>
<text class="t"><tspan x="3195.5" y="1649.2">- id: int</tspan><tspan x="3195.5" y="1657.2">- total_score: float</tspan><tspan x="3195.5" y="1665.5">- current_cycle_time: float</tspan><tspan x="3195.5" y="1674.2">- current_cost: float</tspan><tspan x="3195.5" y="1682.5">- current_quality: float</tspan><tspan x="3195.5" y="1690.5">- current_flexibility: float</tspan><tspan x="3195.5" y="1703.5">- check_if_process_version_exists_in_health(</tspan><tspan x="3195.5" y="1712.2">process_version_version)</tspan><tspan x="3195.5" y="1726.8">- update_health_of_process_version(process_version_version,</tspan><tspan x="3195.5" y="1735.8">current_cycle_time, current_cost, current_quality, current_flexibility)</tspan><tspan x="3195.5" y="1750.2">- add_health_of_process_version(process_version_version,</tspan><tspan x="3195.5" y="1759.2">current_cycle_time, current_cost, current_quality, current_flexibility)</tspan><tspan x="3195.5" y="1775.2">- get_health_of_process_version(process_version_version)</tspan><tspan x="3195.5" y="1792.5">- save_total_score(process_version_version, total_score)</tspan><tspan x="3195.5" y="1809.8">- delete_health_values(version)</tspan></text>
</g>

<g id="FeasibilityPersistence">
<rect class="gb" x="3433.7" y="1623.3" width="221.7" height="129"/>
<rect class="gh" x="3433.7" y="1623.3" width="221.7" height="17.4"/>
<text class="t b" x="3544.5" y="1634.5">FeasibilityPersistence</text>
<text class="t"><tspan x="3436.7" y="1650.8">- id: int</tspan><tspan x="3436.7" y="1659.5">- total_score: float</tspan><tspan x="3436.7" y="1674.2">- check_if_process_version_exists_in_feasibility(</tspan><tspan x="3436.7" y="1682.8">process_version_version)</tspan><tspan x="3436.7" y="1697.5">- update_feasibility_of_process_version(process_version_version,</tspan><tspan x="3436.7" y="1706.5">total_score)</tspan><tspan x="3436.7" y="1720.8">- add_feasibility_of_active_process_version(process_version_version</tspan><tspan x="3436.7" y="1729.8">total_score)</tspan><tspan x="3436.7" y="1745.8">- get_feasibility_of_process_version(process_version_version)</tspan></text>
</g>

<g id="StrategicImportancePersistence">
<rect class="gb" x="3676.9" y="1623.3" width="222.9" height="158.4"/>
<rect class="gh" x="3676.9" y="1623.3" width="222.9" height="17.4"/>
<text class="t b" x="3788.3" y="1634.5">StrategicImportancePersistence</text>
<text class="t"><tspan x="3679.9" y="1650.8">- id: int</tspan><tspan x="3679.9" y="1659.5">- total_score: float</tspan><tspan x="3679.9" y="1674.2">- check_if_process_version_exists_in_strategic_importance(</tspan><tspan x="3679.9" y="1682.8">process_version_version)</tspan><tspan x="3679.9" y="1697.5">- update_feasibility_of_process_version(process_version_version,</tspan><tspan x="3679.9" y="1706.5">total_score)</tspan><tspan x="3679.9" y="1720.8">- update_strategic_importance_of_active_process_version(</tspan><tspan x="3679.9" y="1729.8">process_version_version, total_score)</tspan><tspan x="3679.9" y="1744.5">- add_strategic_importance_of_active_process_version(</tspan><tspan x="3679.9" y="1753.5">process_version_version, total_score)</tspan><tspan x="3679.9" y="1768.2">- get_strategic_importance_of_process_version(</tspan><tspan x="3679.9" y="1776.8">process_version_version)</tspan></text>
</g>

<g id="entity-Workspace"><rect class="wb" x="716" y="2243" width="59.5" height="24"/><text class="t c" x="745.7" y="2257.5">Workspace</text></g>
<g id="entity-Recent_Opened_Workspace"><rect class="wb" x="775.5" y="2243" width="119" height="24"/><text class="t c" x="835" y="2257.5">Recent_Opened_Workspace</text></g>
<g id="entity-JoinWorkspace"><rect class="wb" x="894.5" y="2243" width="73.8" height="24"/><text class="t c" x="931.4" y="2257.5">JoinWorkspace</text></g>
<g id="entity-Request"><rect class="wb" x="968.3" y="2243" width="47.6" height="24"/><text class="t c" x="992.1" y="2257.5">Request</text></g>
<g id="entity-Notification"><rect class="wb" x="1015.9" y="2243" width="59.5" height="24"/><text class="t c" x="1045.6" y="2257.5">Notification</text></g>
<g id="entity-Survey"><rect class="wb" x="1075.4" y="2243" width="45.2" height="24"/><text class="t c" x="1098" y="2257.5">Survey</text></g>
<g id="entity-Survey_result"><rect class="wb" x="1120.6" y="2243" width="66.6" height="24"/><text class="t c" x="1153.9" y="2257.5">Survey_result</text></g>
<g id="entity-Health"><rect class="wb" x="1187.2" y="2243" width="45.2" height="24"/><text class="t c" x="1209.8" y="2257.5">Health</text></g>
<g id="entity-Feasibility"><rect class="wb" x="1232.4" y="2243" width="57.1" height="24"/><text class="t c" x="1261" y="2257.5">Feasibility</text></g>
<g id="entity-Strategic_importance"><rect class="wb" x="1289.5" y="2243" width="61.9" height="24"/><text class="t c"><tspan x="1320.5" y="2253.5">Strategic</tspan><tspan x="1320.5" y="2261.5">importance</tspan></text></g>
<g id="entity-Question"><rect class="wb" x="1351.4" y="2243" width="50" height="24"/><text class="t c" x="1376.4" y="2257.5">Question</text></g>
<g id="entity-Question_in_section"><rect class="wb" x="1401.4" y="2243" width="57.1" height="24"/><text class="t c"><tspan x="1430" y="2253.5">Question in</tspan><tspan x="1430" y="2261.5">section</tspan></text></g>
<g id="entity-Section"><rect class="wb" x="1458.5" y="2243" width="45.2" height="24"/><text class="t c" x="1481.1" y="2257.5">Section</text></g>
<g id="entity-Question_option"><rect class="wb" x="1503.7" y="2243" width="57.1" height="24"/><text class="t c" x="1532.2" y="2257.5">Question option</text></g>
<g id="entity-Question_option_section_mapping"><rect class="wb" x="1560.8" y="2243" width="73.8" height="24"/><text class="t c"><tspan x="1597.7" y="2253.5">Question option</tspan><tspan x="1597.7" y="2261.5">section mapping</tspan></text></g>
<g id="entity-Response"><rect class="wb" x="1634.6" y="2243" width="52.4" height="24"/><text class="t c" x="1660.8" y="2257.5">Response</text></g>
<g id="entity-Respondent"><rect class="wb" x="1687" y="2243" width="59.5" height="24"/><text class="t c" x="1716.8" y="2257.5">Respondent</text></g>
<g id="entity-Answer"><rect class="wb" x="1746.5" y="2243" width="47.6" height="24"/><text class="t c" x="1770.3" y="2257.5">Answer</text></g>
<g id="entity-Survey_recipient"><rect class="wb" x="1794.1" y="2243" width="66.6" height="24"/><text class="t c" x="1827.4" y="2257.5">Survey recipient</text></g>
<g id="entity-Survey_send"><rect class="wb" x="1860.7" y="2243" width="59.5" height="24"/><text class="t c" x="1890.4" y="2257.5">Survey send</text></g>
</svg>
